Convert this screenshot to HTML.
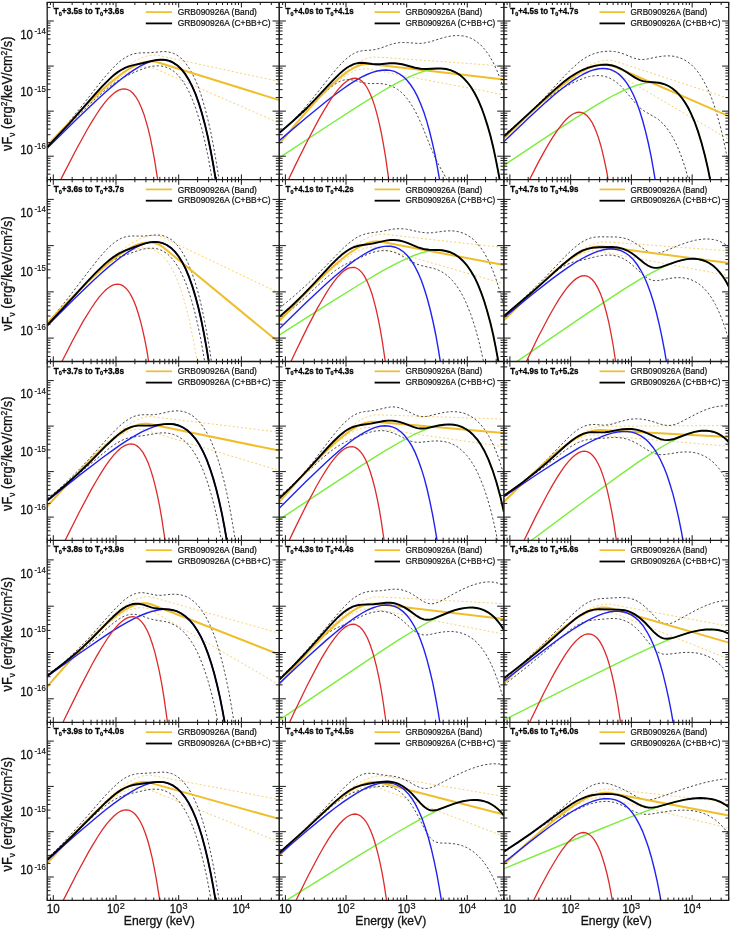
<!DOCTYPE html><html><head><meta charset="utf-8"><style>html,body{margin:0;padding:0;background:#fff;}svg{display:block}</style></head><body>
<svg width="730" height="929" viewBox="0 0 730 929" font-family="Liberation Sans, sans-serif" style="will-change:transform">
<rect width="730" height="929" fill="#fff"/>
<clipPath id="c00"><rect x="47.2" y="2.3" width="231.9" height="177.3"/></clipPath>
<clipPath id="c01"><rect x="47.2" y="179.6" width="231.9" height="181.9"/></clipPath>
<clipPath id="c02"><rect x="47.2" y="361.5" width="231.9" height="178.9"/></clipPath>
<clipPath id="c03"><rect x="47.2" y="540.4" width="231.9" height="182.0"/></clipPath>
<clipPath id="c04"><rect x="47.2" y="722.4" width="231.9" height="177.9"/></clipPath>
<clipPath id="c10"><rect x="279.3" y="2.3" width="224.5" height="177.3"/></clipPath>
<clipPath id="c11"><rect x="279.3" y="179.6" width="224.5" height="181.9"/></clipPath>
<clipPath id="c12"><rect x="279.3" y="361.5" width="224.5" height="178.9"/></clipPath>
<clipPath id="c13"><rect x="279.3" y="540.4" width="224.5" height="182.0"/></clipPath>
<clipPath id="c14"><rect x="279.3" y="722.4" width="224.5" height="177.9"/></clipPath>
<clipPath id="c20"><rect x="504.0" y="2.3" width="224.7" height="177.3"/></clipPath>
<clipPath id="c21"><rect x="504.0" y="179.6" width="224.7" height="181.9"/></clipPath>
<clipPath id="c22"><rect x="504.0" y="361.5" width="224.7" height="178.9"/></clipPath>
<clipPath id="c23"><rect x="504.0" y="540.4" width="224.7" height="182.0"/></clipPath>
<clipPath id="c24"><rect x="504.0" y="722.4" width="224.7" height="177.9"/></clipPath>
<g clip-path="url(#c00)" fill="none">
<path d="M47.2 146.6 68.0 123.5 84.8 105.4 98.9 91.1 110.7 79.8 121.2 70.8 126.0 67.1 130.5 63.9 134.7 61.3 139.0 59.0 142.8 57.3 146.5 56.1 149.5 55.4 152.5 55.0 155.5 55.0 158.3 55.4 279.1 81.5" stroke="#f2cd6c" stroke-width="0.95" stroke-dasharray="1.9,2.3"/>
<path d="M47.2 145.1 67.3 124.4 83.6 108.2 97.1 95.6 108.7 85.7 113.9 81.6 118.9 78.1 123.7 75.0 128.2 72.4 132.5 70.4 136.5 68.9 140.2 67.8 144.0 67.2 147.0 67.1 149.8 67.3 152.5 67.9 155.3 68.8 279.1 123.0" stroke="#f2cd6c" stroke-width="0.95" stroke-dasharray="1.9,2.3"/>
<path d="M47.2 147.1 59.8 132.8 71.0 119.4 81.1 107.0 99.1 84.0 106.4 75.2 110.7 70.3 114.7 66.2 118.2 62.8 121.7 59.9 125.5 57.4 129.0 55.5 132.7 54.1 136.5 53.3 140.5 52.9 150.5 52.7 163.3 51.5 167.6 51.8 171.6 52.7 173.8 53.5 176.1 54.6 178.4 56.1 180.4 57.6 184.4 61.6 188.1 66.6 191.9 72.8 195.4 80.0 198.7 88.0 201.9 97.5 204.9 107.8 207.9 119.6 211.0 133.1 213.7 147.3 216.5 163.3 219.0 179.5 221.5 197.6 224.2 219.6 279.1 219.6" stroke="#404040" stroke-width="0.95" stroke-dasharray="2.2,2.1"/>
<path d="M47.2 145.1 96.9 97.4 107.1 88.5 111.7 85.0 115.9 82.0 122.2 78.2 129.5 74.5 139.0 70.3 146.5 67.6 151.8 66.3 156.8 65.8 161.3 66.0 165.6 67.0 170.1 68.9 174.3 71.7 178.4 75.5 182.1 80.1 185.9 85.9 189.4 92.6 192.6 100.1 195.9 108.8 198.9 118.3 201.9 129.1 204.9 141.6 207.7 154.6 210.4 169.3 213.0 184.3 215.5 200.9 218.0 219.3 218.2 219.6 279.1 219.6" stroke="#404040" stroke-width="0.95" stroke-dasharray="2.2,2.1"/>
<path d="M47.2 145.5 67.8 123.9 84.3 107.0 98.1 93.7 109.9 83.1 120.4 74.7 125.2 71.4 129.7 68.5 134.0 66.2 138.2 64.2 142.0 62.8 145.8 61.9 148.8 61.5 151.8 61.4 154.8 61.6 157.5 62.2 279.1 100.1" stroke="#efbe2a" stroke-width="2.0"/>
<path d="M47.2 148.2 75.6 120.2 96.6 100.2 105.4 92.3 113.4 85.4 120.7 79.5 127.5 74.4 133.7 70.1 139.7 66.4 145.3 63.6 150.5 61.6 155.5 60.2 160.1 59.7 164.3 59.8 168.6 60.7 170.8 61.5 173.1 62.6 177.4 65.4 181.4 69.2 185.1 73.9 188.9 79.9 192.4 86.8 195.7 94.4 198.9 103.5 201.9 113.2 204.9 124.4 207.9 137.3 210.7 150.8 213.5 166.0 216.0 181.5 218.5 198.7 221.2 219.6 279.1 219.6" stroke="#2222f0" stroke-width="1.4"/>
<path d="M47.2 207.3 63.0 175.1 76.1 149.7 87.1 129.7 91.9 121.6 96.4 114.5 100.6 108.2 104.6 102.9 108.4 98.4 112.2 94.7 115.4 92.1 118.7 90.1 121.7 89.1 124.7 88.8 127.7 89.5 130.5 91.0 133.2 93.5 136.0 97.0 138.7 101.8 141.2 107.2 143.8 113.9 146.0 121.1 148.3 129.4 150.3 137.9 152.5 148.8 154.5 159.7 158.3 183.6 160.6 200.4 162.8 219.3 163.1 219.6 279.1 219.6" stroke="#de2a2a" stroke-width="1.3"/>
<path d="M47.2 147.2 69.0 123.8 94.9 94.4 101.9 86.6 110.2 78.4 113.9 75.1 117.4 72.4 121.4 69.8 125.5 67.7 129.7 66.1 134.5 64.8 143.3 63.0 152.8 60.7 157.3 59.9 160.3 59.6 163.1 59.7 165.8 60.0 168.6 60.7 170.8 61.5 173.1 62.6 177.4 65.4 181.4 69.2 185.1 73.9 188.9 79.9 192.4 86.8 195.7 94.4 198.9 103.5 201.9 113.2 204.9 124.4 207.9 137.3 210.7 150.8 213.5 166.0 216.0 181.5 218.5 198.7 221.2 219.6 279.1 219.6" stroke="#000" stroke-width="1.9"/>
</g>
<g clip-path="url(#c01)" fill="none">
<path d="M47.2 324.0 69.3 300.2 86.8 282.0 101.1 267.9 113.4 256.8 119.2 252.0 124.4 248.0 129.5 244.5 134.0 241.8 138.2 239.5 142.5 237.7 146.5 236.4 150.3 235.7 153.5 235.5 156.8 235.7 159.8 236.3 162.8 237.4 279.1 293.0" stroke="#f2cd6c" stroke-width="0.95" stroke-dasharray="1.9,2.3"/>
<path d="M47.2 322.7 70.0 299.7 87.8 282.6 95.4 275.8 102.4 269.8 108.9 264.5 114.9 260.1 120.7 256.3 126.0 253.3 131.0 250.9 135.7 249.2 140.2 248.2 144.5 247.8 148.5 248.2 152.3 249.1 156.5 251.1 160.6 253.9 164.3 257.6 168.1 262.4 171.6 268.0 175.1 275.0 178.4 282.8 181.4 291.2 184.4 301.0 187.1 311.2 189.9 322.9 192.6 336.2 195.2 349.7 197.7 364.8 202.9 401.5 279.1 401.5" stroke="#f2cd6c" stroke-width="0.95" stroke-dasharray="1.9,2.3"/>
<path d="M47.2 323.5 57.0 311.8 66.3 300.4 91.6 267.4 99.1 258.0 103.6 252.8 107.6 248.5 111.4 245.0 114.9 242.1 118.4 239.8 121.7 238.1 125.2 236.9 128.7 236.2 132.7 236.0 143.3 236.1 153.5 235.1 156.8 235.0 161.1 235.3 164.8 236.2 169.1 238.2 171.3 239.6 173.3 241.2 177.4 245.2 181.1 250.2 184.6 256.1 188.1 263.3 191.4 271.4 194.7 280.9 197.7 291.1 200.7 302.9 203.7 316.5 206.4 330.7 209.2 346.7 211.7 363.0 214.2 381.2 216.7 401.3 217.0 401.5 279.1 401.5" stroke="#404040" stroke-width="0.95" stroke-dasharray="2.2,2.1"/>
<path d="M47.2 324.5 60.5 310.5 83.1 286.2 91.1 277.8 100.1 269.3 104.1 266.0 107.9 263.3 113.4 260.0 119.2 257.3 134.7 251.7 141.5 249.5 146.3 248.5 150.8 248.1 155.0 248.4 159.0 249.3 163.3 251.2 167.6 254.1 171.3 257.7 175.1 262.4 178.6 267.9 182.1 274.6 185.4 282.1 188.6 291.0 191.6 300.6 194.7 311.6 197.4 323.1 200.2 336.2 202.9 351.0 205.4 366.0 207.9 382.7 210.4 401.3 210.7 401.5 279.1 401.5" stroke="#404040" stroke-width="0.95" stroke-dasharray="2.2,2.1"/>
<path d="M47.2 323.0 69.3 300.2 86.8 282.7 101.4 269.2 107.6 263.8 113.7 258.9 119.4 254.6 124.7 251.1 129.7 248.1 134.2 245.9 138.7 244.1 143.0 243.0 147.0 242.4 150.8 242.4 154.3 243.0 157.5 244.0 160.8 245.6 163.8 247.7 279.1 342.6" stroke="#efbe2a" stroke-width="2.0"/>
<path d="M47.2 325.9 73.3 299.8 93.1 280.7 101.6 272.9 109.2 266.4 116.2 260.7 122.7 255.7 128.7 251.6 134.5 248.2 139.7 245.6 144.8 243.6 149.5 242.4 154.0 241.9 158.3 242.1 162.3 243.0 166.6 244.8 170.8 247.7 174.8 251.6 178.6 256.4 182.1 262.0 185.6 268.9 188.9 276.6 192.1 285.7 195.2 295.5 198.2 306.8 200.9 318.6 203.7 332.1 206.2 345.8 208.7 361.0 211.5 379.8 214.2 400.9 214.5 401.5 279.1 401.5" stroke="#2222f0" stroke-width="1.4"/>
<path d="M47.2 391.7 61.3 362.8 72.8 340.2 82.8 321.9 91.4 308.0 95.4 302.1 99.1 297.2 102.6 293.1 105.9 289.8 109.2 287.2 112.2 285.4 115.2 284.4 117.9 284.2 120.7 284.7 123.4 286.1 126.2 288.4 128.7 291.5 131.2 295.6 133.7 300.8 136.0 306.5 138.2 313.3 140.5 321.2 142.5 329.3 144.8 339.7 146.8 350.2 150.5 373.3 154.3 401.4 279.1 401.5" stroke="#de2a2a" stroke-width="1.3"/>
<path d="M47.2 325.2 62.5 308.9 87.3 281.7 95.6 272.9 104.9 263.9 108.9 260.5 112.9 257.4 118.7 253.7 125.0 250.6 134.0 247.1 144.3 243.6 149.5 242.4 154.0 241.9 158.3 242.1 162.6 243.1 166.8 245.0 171.1 247.9 175.1 251.9 178.9 256.7 182.4 262.4 185.9 269.4 189.1 277.2 192.4 286.4 195.4 296.4 198.4 307.8 201.2 319.8 203.9 333.4 206.4 347.2 208.9 362.6 211.7 381.6 214.2 400.9 214.5 401.5 279.1 401.5" stroke="#000" stroke-width="1.9"/>
</g>
<g clip-path="url(#c02)" fill="none">
<path d="M47.2 507.1 66.5 485.0 82.3 467.5 95.6 453.5 106.9 442.3 117.2 433.2 121.7 429.6 126.2 426.3 130.2 423.6 134.2 421.3 138.0 419.5 141.7 418.1 144.8 417.2 147.5 416.8 150.3 416.6 152.8 416.7 279.1 432.2" stroke="#f2cd6c" stroke-width="0.95" stroke-dasharray="1.9,2.3"/>
<path d="M47.2 506.5 64.8 486.8 79.1 471.4 91.4 459.0 102.1 449.0 107.1 444.7 111.9 441.0 116.2 438.0 120.4 435.3 124.4 433.1 128.2 431.5 131.7 430.3 135.2 429.5 137.7 429.2 140.2 429.2 142.8 429.5 145.0 430.0 279.1 470.5" stroke="#f2cd6c" stroke-width="0.95" stroke-dasharray="1.9,2.3"/>
<path d="M47.2 499.8 64.8 483.7 78.8 469.9 88.8 459.3 108.4 437.4 115.9 429.5 122.2 423.7 128.0 419.5 131.0 417.8 134.0 416.4 137.0 415.5 140.0 415.0 143.8 414.7 152.0 414.8 155.5 414.5 159.6 413.8 169.3 411.6 174.8 410.9 177.9 410.8 180.6 411.1 183.4 411.6 185.9 412.3 188.4 413.4 190.6 414.5 192.9 416.0 195.2 417.8 199.4 422.0 203.4 427.2 207.2 433.3 211.0 440.8 214.5 449.3 217.7 458.5 221.0 469.3 224.0 480.9 227.0 494.0 229.8 507.7 232.5 523.1 235.0 538.7 240.8 580.4 279.1 580.4" stroke="#404040" stroke-width="0.95" stroke-dasharray="2.2,2.1"/>
<path d="M47.2 498.4 63.0 486.4 75.6 476.5 108.2 449.1 114.7 444.4 120.7 440.9 125.7 438.7 131.0 437.3 144.8 435.4 157.8 433.2 162.3 432.8 166.3 433.0 170.1 433.5 173.8 434.6 178.4 436.6 182.9 439.6 186.9 443.2 190.9 447.8 194.7 453.3 198.4 459.9 201.9 467.4 205.2 475.6 208.2 484.3 211.2 494.4 214.2 505.8 217.0 517.7 219.7 531.1 222.2 544.7 225.0 561.3 227.7 580.0 228.0 580.4 279.1 580.4" stroke="#404040" stroke-width="0.95" stroke-dasharray="2.2,2.1"/>
<path d="M47.2 506.3 65.8 485.8 81.1 469.4 93.9 456.4 104.9 446.1 114.9 437.7 119.4 434.3 123.7 431.5 127.7 429.1 131.7 427.1 135.5 425.6 139.0 424.5 141.7 424.0 144.5 423.7 147.0 423.8 149.5 424.1 279.1 450.6" stroke="#efbe2a" stroke-width="2.0"/>
<path d="M47.2 500.9 79.3 475.4 102.4 457.7 112.2 450.6 120.7 444.7 128.5 439.6 135.5 435.4 142.3 431.7 148.5 428.8 154.3 426.6 159.8 425.0 165.1 424.1 169.8 423.9 174.3 424.3 178.6 425.5 183.1 427.5 187.6 430.5 191.6 434.3 195.7 439.1 199.4 444.8 203.2 451.8 206.7 459.7 209.9 468.3 213.2 478.4 216.2 489.1 219.2 501.3 222.0 514.1 224.7 528.4 227.5 544.5 232.8 580.4 279.1 580.4" stroke="#2222f0" stroke-width="1.4"/>
<path d="M47.2 577.6 64.8 541.1 79.1 512.5 91.1 489.9 96.4 480.7 101.1 472.8 105.6 465.9 109.9 459.9 113.9 454.9 117.7 450.9 121.2 447.8 124.7 445.6 128.0 444.3 131.0 443.9 134.0 444.4 135.5 445.0 137.0 445.9 140.0 448.6 142.8 452.2 145.5 457.1 148.0 462.6 150.5 469.4 152.8 476.7 155.0 485.1 157.3 494.9 159.6 506.1 161.8 518.7 166.1 547.4 170.1 580.4 279.1 580.4" stroke="#de2a2a" stroke-width="1.3"/>
<path d="M47.2 500.5 64.5 485.8 78.3 473.4 87.8 464.3 106.6 445.2 113.7 438.5 119.7 433.4 125.2 429.7 128.5 428.1 131.5 426.9 134.7 426.1 138.0 425.6 152.0 425.6 164.1 424.1 168.6 423.9 173.8 424.3 178.6 425.5 183.1 427.5 187.6 430.5 191.6 434.3 195.7 439.1 199.4 444.8 203.2 451.8 206.7 459.7 209.9 468.3 213.2 478.4 216.2 489.1 219.2 501.3 222.0 514.1 224.7 528.4 227.5 544.5 232.8 580.4 279.1 580.4" stroke="#000" stroke-width="1.9"/>
</g>
<g clip-path="url(#c03)" fill="none">
<path d="M47.2 687.4 66.5 664.5 82.3 646.4 95.6 632.0 106.9 620.7 112.2 615.8 117.2 611.5 121.7 607.9 126.2 604.7 130.2 602.2 134.2 600.1 138.0 598.5 141.7 597.4 144.8 596.9 147.5 596.7 150.3 596.9 152.8 597.4 279.1 633.2" stroke="#f2cd6c" stroke-width="0.95" stroke-dasharray="1.9,2.3"/>
<path d="M47.2 686.2 66.5 664.8 82.1 648.2 95.1 635.3 106.4 625.1 111.7 620.9 116.4 617.4 120.9 614.5 125.5 612.0 129.5 610.1 133.5 608.7 137.2 607.9 141.0 607.6 143.8 607.8 146.5 608.3 149.3 609.3 151.8 610.5 279.1 684.8" stroke="#f2cd6c" stroke-width="0.95" stroke-dasharray="1.9,2.3"/>
<path d="M47.2 676.9 64.0 662.3 77.3 649.9 84.1 643.1 90.9 635.9 110.4 613.9 116.7 607.1 123.7 600.5 127.0 598.0 130.0 596.0 133.0 594.5 135.7 593.5 138.5 592.9 141.5 592.6 145.8 593.0 153.8 594.7 157.5 595.3 161.8 595.3 170.8 594.3 175.3 594.2 180.1 594.7 184.6 595.9 187.1 597.0 189.4 598.2 193.9 601.5 198.2 605.7 202.2 610.9 205.9 617.0 209.7 624.4 213.2 632.7 216.5 641.9 219.7 652.5 222.7 663.8 225.7 676.8 228.8 691.5 231.5 706.8 234.3 723.9 236.8 741.3 239.5 762.4 279.1 762.4" stroke="#404040" stroke-width="0.95" stroke-dasharray="2.2,2.1"/>
<path d="M47.2 674.3 64.5 662.8 77.3 653.7 83.6 648.8 89.8 643.6 107.4 628.1 113.2 623.2 119.2 618.9 121.9 617.3 124.7 616.0 127.7 614.9 130.5 614.4 133.2 614.2 136.2 614.5 140.5 615.5 148.3 618.3 151.8 619.3 155.5 620.1 164.8 621.5 167.8 622.2 170.6 623.2 175.3 625.4 179.6 628.3 183.6 631.8 187.6 636.3 191.4 641.6 195.2 648.0 198.7 655.1 201.9 662.9 205.2 671.9 208.2 681.5 211.2 692.4 214.0 703.7 216.7 716.4 219.5 730.7 224.7 762.4 279.1 762.4" stroke="#404040" stroke-width="0.95" stroke-dasharray="2.2,2.1"/>
<path d="M47.2 686.5 66.5 664.7 82.1 647.8 95.1 634.5 106.4 623.9 111.7 619.4 116.4 615.6 120.9 612.3 125.5 609.5 129.5 607.3 133.5 605.5 137.2 604.2 141.0 603.5 143.8 603.2 146.5 603.3 149.3 603.7 151.8 604.5 279.1 654.5" stroke="#efbe2a" stroke-width="2.0"/>
<path d="M47.2 676.5 78.6 654.0 101.4 638.3 110.7 632.2 119.2 626.9 127.0 622.4 134.0 618.7 140.7 615.5 147.0 613.0 152.8 611.2 158.0 610.0 163.1 609.4 167.8 609.4 172.3 610.0 176.6 611.2 181.1 613.4 185.6 616.5 189.6 620.2 193.7 625.0 197.4 630.6 201.2 637.4 204.7 645.1 207.9 653.4 211.2 663.2 214.2 673.5 217.2 685.4 220.0 697.6 222.7 711.4 225.2 725.4 228.0 742.6 230.8 761.8 231.0 762.4 279.1 762.4" stroke="#2222f0" stroke-width="1.4"/>
<path d="M47.2 755.8 65.5 717.0 80.1 687.4 92.1 664.3 97.4 654.9 102.4 646.5 107.1 639.0 111.4 632.9 115.4 627.9 119.2 623.8 122.7 620.7 126.2 618.4 129.5 617.1 132.5 616.7 134.2 616.9 135.7 617.4 137.2 618.1 138.7 619.0 141.7 621.9 144.5 625.7 147.3 630.8 149.8 636.6 152.3 643.7 154.8 652.1 157.0 661.1 159.3 671.4 161.6 683.1 163.8 696.4 167.8 724.5 172.3 762.4 279.1 762.4" stroke="#de2a2a" stroke-width="1.3"/>
<path d="M47.2 676.1 64.0 663.1 77.1 652.3 83.6 646.4 90.1 640.2 108.7 621.2 114.7 615.3 118.2 612.2 121.4 609.6 124.4 607.6 127.2 606.0 130.2 604.8 133.0 604.0 135.7 603.7 138.7 603.7 143.0 604.6 151.3 607.3 155.0 608.3 159.0 608.8 169.6 609.5 173.1 610.2 176.6 611.2 181.4 613.5 185.6 616.5 189.6 620.2 193.7 625.0 197.4 630.6 201.2 637.4 204.7 645.1 207.9 653.4 211.2 663.2 214.2 673.5 217.2 685.4 220.0 697.6 222.7 711.4 225.2 725.4 228.0 742.6 230.8 761.8 231.0 762.4 279.1 762.4" stroke="#000" stroke-width="1.9"/>
</g>
<g clip-path="url(#c04)" fill="none">
<path d="M47.2 864.0 66.5 842.0 82.3 824.6 95.6 810.6 106.9 799.6 117.2 790.6 121.7 787.1 126.2 783.9 130.2 781.3 134.2 779.2 138.0 777.5 141.7 776.2 144.5 775.6 147.3 775.3 150.0 775.2 152.5 775.5 279.1 799.5" stroke="#f2cd6c" stroke-width="0.95" stroke-dasharray="1.9,2.3"/>
<path d="M47.2 863.0 65.3 843.3 80.1 827.9 92.6 815.6 103.6 805.7 108.7 801.7 113.4 798.1 117.9 795.1 122.2 792.6 126.2 790.7 130.0 789.2 133.7 788.1 137.2 787.6 140.0 787.5 142.5 787.7 145.0 788.2 147.5 789.0 279.1 842.0" stroke="#f2cd6c" stroke-width="0.95" stroke-dasharray="1.9,2.3"/>
<path d="M47.2 859.1 61.3 844.7 73.3 831.8 83.6 820.4 101.4 799.9 108.2 792.5 115.9 784.9 119.2 782.1 122.4 779.7 126.2 777.3 130.0 775.6 133.7 774.4 137.5 773.7 149.8 773.0 162.1 772.1 166.8 772.4 171.3 773.5 173.6 774.5 175.8 775.6 180.1 778.7 184.1 782.7 188.1 788.0 191.9 794.2 195.4 801.4 198.9 810.1 202.2 819.6 205.2 829.8 208.2 841.5 211.2 855.0 214.0 869.0 216.7 884.8 219.2 900.9 224.5 940.3 279.1 940.3" stroke="#404040" stroke-width="0.95" stroke-dasharray="2.2,2.1"/>
<path d="M47.2 858.1 68.0 839.6 99.1 810.9 107.1 804.4 110.7 801.9 114.2 799.7 119.7 796.9 125.5 794.9 131.2 793.4 147.3 789.8 152.3 789.2 156.5 789.1 160.6 789.6 164.6 790.7 169.1 792.8 173.3 795.7 177.4 799.5 181.1 804.1 184.9 809.9 188.4 816.5 191.6 823.7 194.9 832.3 197.9 841.5 200.9 852.0 203.9 864.1 206.7 876.7 209.4 890.9 212.0 905.3 217.2 940.3 279.1 940.3" stroke="#404040" stroke-width="0.95" stroke-dasharray="2.2,2.1"/>
<path d="M47.2 863.4 65.8 842.8 81.1 826.5 94.1 813.3 105.1 803.0 115.2 794.8 119.7 791.5 123.9 788.8 128.0 786.5 132.0 784.7 135.7 783.3 139.2 782.4 142.0 782.0 144.5 782.0 147.0 782.1 149.5 782.6 279.1 818.9" stroke="#efbe2a" stroke-width="2.0"/>
<path d="M47.2 860.4 75.6 835.1 96.6 817.2 105.4 810.0 113.4 803.9 120.7 798.6 127.5 794.1 133.7 790.3 139.7 787.2 145.3 784.8 150.5 783.2 155.3 782.2 159.8 781.9 164.1 782.3 168.3 783.4 172.8 785.4 177.1 788.4 181.1 792.3 185.1 797.3 188.9 803.3 192.4 810.2 195.7 817.8 198.9 826.7 201.9 836.3 204.9 847.4 207.9 860.0 210.7 873.2 213.5 888.1 216.0 903.2 218.5 920.0 221.2 940.3 279.1 940.3" stroke="#2222f0" stroke-width="1.4"/>
<path d="M47.2 933.4 63.5 899.9 76.8 873.7 88.1 852.9 93.1 844.3 97.6 837.0 102.1 830.2 106.1 824.7 109.9 820.2 113.7 816.3 117.2 813.3 120.4 811.3 123.4 810.1 126.5 809.8 129.5 810.3 132.2 811.7 135.0 814.0 137.7 817.4 140.5 822.0 143.0 827.3 145.5 833.8 147.8 840.8 150.0 849.0 152.3 858.4 154.5 869.3 156.5 880.1 160.6 905.8 164.8 939.5 165.1 940.3 279.1 940.3" stroke="#de2a2a" stroke-width="1.3"/>
<path d="M47.2 859.9 61.0 846.9 72.8 835.5 105.9 802.2 113.7 795.3 117.2 792.6 120.4 790.4 124.7 788.0 128.7 786.3 133.0 785.0 137.7 784.2 152.8 782.3 158.0 781.9 163.3 782.1 165.8 782.6 168.3 783.3 172.8 785.4 177.1 788.4 181.1 792.3 185.1 797.3 188.9 803.3 192.4 810.2 195.7 817.8 198.9 826.7 201.9 836.3 204.9 847.4 207.9 860.0 210.7 873.2 213.5 888.1 216.0 903.2 218.5 920.0 221.2 940.3 279.1 940.3" stroke="#000" stroke-width="1.9"/>
</g>
<g clip-path="url(#c10)" fill="none">
<path d="M279.5 143.9 297.0 122.9 311.3 106.2 323.4 92.8 333.8 82.0 343.3 73.2 351.5 66.6 355.4 63.9 359.0 61.7 362.7 59.9 366.1 58.5 371.2 57.2 373.6 57.0 375.8 57.0 503.8 66.0" stroke="#f2cd6c" stroke-width="0.95" stroke-dasharray="1.9,2.3"/>
<path d="M279.5 143.0 295.0 124.9 308.1 110.2 319.3 98.4 329.2 88.7 338.2 81.0 342.3 77.9 346.2 75.3 349.8 73.2 353.5 71.4 356.9 70.1 360.0 69.3 364.4 68.7 368.5 69.0 503.8 94.7" stroke="#f2cd6c" stroke-width="0.95" stroke-dasharray="1.9,2.3"/>
<path d="M279.5 132.8 291.4 122.0 302.1 110.9 312.7 98.5 330.2 76.4 336.3 69.1 342.8 62.0 345.7 59.3 348.6 56.9 351.3 55.0 353.7 53.6 356.1 52.4 358.8 51.5 363.2 50.6 372.1 50.0 376.3 49.3 380.4 48.2 390.3 44.6 395.7 43.2 399.5 42.6 403.4 42.5 407.3 42.6 417.7 43.4 420.9 43.4 423.8 43.1 429.8 41.9 441.0 38.4 445.6 37.1 450.5 36.1 454.8 35.6 458.9 35.6 463.1 35.9 466.9 36.8 470.6 38.1 473.2 39.4 475.7 40.9 480.3 44.5 484.6 49.2 489.0 55.2 492.9 61.9 496.8 70.1 500.4 79.3 503.8 89.4" stroke="#404040" stroke-width="0.95" stroke-dasharray="2.2,2.1"/>
<path d="M279.5 131.8 290.7 123.3 300.4 115.3 308.6 107.8 323.7 93.3 329.2 88.4 335.0 84.1 337.7 82.5 340.4 81.2 342.8 80.3 345.2 79.8 347.7 79.5 350.1 79.6 354.0 80.2 361.7 82.5 365.4 83.2 369.5 83.6 378.0 83.5 382.1 83.7 386.7 84.5 390.8 85.8 394.2 87.3 397.6 89.4 400.8 91.9 403.9 94.9 406.8 98.2 409.7 102.1 412.6 106.6 415.3 111.3 418.4 117.6 421.6 124.6 431.5 149.3 435.4 158.2 439.3 165.9 447.8 181.1 452.2 190.2 454.8 196.7 457.2 203.3 462.3 219.6 503.8 219.6" stroke="#404040" stroke-width="0.95" stroke-dasharray="2.2,2.1"/>
<path d="M279.5 143.7 295.5 124.4 308.9 108.9 320.3 96.4 330.2 86.3 339.2 78.1 347.2 71.9 350.8 69.6 354.4 67.5 357.8 66.0 361.2 64.8 365.8 63.9 370.2 63.9 503.8 79.6" stroke="#efbe2a" stroke-width="2.0"/>
<path d="M279.5 157.7 328.3 125.5 358.6 105.9 381.1 92.0 390.3 86.7 398.6 82.2 406.6 78.2 413.8 74.9 420.6 72.3 426.7 70.4 432.3 69.2 437.6 68.6 442.7 68.6 447.3 69.2 452.4 70.8 457.0 73.0 461.4 76.1 465.7 80.3 469.6 85.1 473.5 91.0 477.1 97.8 480.5 105.4 483.9 114.3 487.1 124.0 490.2 135.2 493.1 147.0 496.0 160.4 498.7 174.2 501.4 189.7 503.8 205.4" stroke="#7aee3a" stroke-width="1.4"/>
<path d="M279.5 140.4 306.2 117.7 326.1 101.5 334.6 95.0 342.1 89.5 349.1 84.6 355.4 80.7 361.5 77.2 367.0 74.5 372.4 72.4 377.2 71.0 381.8 70.2 386.2 70.0 390.3 70.4 394.4 71.4 398.8 73.5 402.9 76.3 406.8 80.0 410.4 84.5 414.1 90.2 417.5 96.6 420.6 103.7 423.8 112.1 426.7 121.1 429.6 131.5 432.5 143.4 435.2 155.7 437.8 169.6 440.3 183.8 445.6 219.6 503.8 219.6" stroke="#2222f0" stroke-width="1.4"/>
<path d="M279.5 198.6 295.0 165.9 307.9 140.0 318.8 119.4 323.7 110.9 328.0 103.8 332.1 97.5 336.0 92.2 339.7 87.7 343.3 84.0 346.7 81.2 349.8 79.3 352.7 78.4 355.7 78.2 358.6 78.9 361.5 80.7 364.4 83.7 367.0 87.5 369.7 92.7 372.1 98.5 374.6 105.6 376.7 113.2 378.9 121.9 381.1 132.0 383.3 143.6 385.5 156.6 389.4 184.2 393.5 219.6 503.8 219.6" stroke="#de2a2a" stroke-width="1.3"/>
<path d="M279.5 132.9 293.3 120.8 305.0 109.8 314.9 99.7 332.4 80.9 339.2 74.1 343.3 70.5 346.9 67.8 350.3 65.8 353.7 64.2 357.4 63.2 361.0 62.8 364.6 63.0 372.4 64.0 376.3 64.3 380.1 64.2 389.6 63.3 394.9 63.3 398.6 63.7 402.2 64.3 415.1 67.7 420.6 68.7 426.5 69.0 436.9 68.5 441.2 68.5 446.1 69.0 450.5 70.1 455.1 72.0 459.4 74.6 463.5 78.1 467.4 82.3 471.1 87.2 474.7 93.2 478.1 99.9 481.5 107.8 484.6 116.5 487.5 125.6 490.5 136.1 493.4 148.0 496.0 160.4 498.7 174.2 501.4 189.7 503.8 205.4" stroke="#000" stroke-width="1.9"/>
</g>
<g clip-path="url(#c11)" fill="none">
<path d="M279.5 321.7 298.9 300.2 314.4 283.4 327.5 269.9 338.7 259.2 348.6 250.5 357.6 243.7 361.7 241.0 365.6 238.8 369.2 237.0 372.9 235.6 375.8 234.8 378.4 234.3 381.1 234.1 383.8 234.2 503.8 247.6" stroke="#f2cd6c" stroke-width="0.95" stroke-dasharray="1.9,2.3"/>
<path d="M279.5 320.1 297.7 301.4 312.5 286.8 325.1 275.0 335.8 265.8 345.5 258.5 349.8 255.5 354.2 253.0 358.1 251.0 362.0 249.3 365.6 248.2 369.0 247.4 371.7 247.1 374.3 247.1 376.7 247.3 379.2 247.8 503.8 283.7" stroke="#f2cd6c" stroke-width="0.95" stroke-dasharray="1.9,2.3"/>
<path d="M279.5 308.1 293.8 296.2 306.4 285.0 318.8 273.1 342.6 248.8 348.9 243.1 354.2 239.1 357.4 237.1 360.3 235.7 363.4 234.5 366.6 233.6 370.2 232.9 380.4 231.6 392.5 229.2 395.9 228.8 399.3 228.7 402.9 228.8 406.6 229.2 420.4 232.2 426.5 232.9 432.5 232.7 442.9 231.3 447.1 230.9 451.2 230.8 455.1 231.1 459.2 231.9 463.3 233.2 467.2 235.1 470.8 237.4 473.5 239.6 475.9 241.9 480.5 247.3 484.9 253.9 489.0 261.7 492.9 270.6 496.8 281.3 500.4 293.2 503.8 306.2" stroke="#404040" stroke-width="0.95" stroke-dasharray="2.2,2.1"/>
<path d="M279.5 319.3 289.0 311.7 298.2 303.8 306.4 296.3 322.0 281.7 328.5 275.9 335.5 270.4 342.3 265.9 349.4 262.3 364.4 255.7 370.4 253.2 375.3 251.7 380.6 250.7 385.5 250.6 390.3 251.2 394.9 252.5 400.5 255.0 411.7 261.6 416.8 264.1 421.8 265.7 434.2 268.6 437.6 269.8 441.0 271.4 445.1 273.9 449.0 277.1 452.6 280.7 456.3 285.3 458.9 289.2 461.4 293.2 463.8 297.8 466.2 302.9 470.8 314.4 475.2 327.7 479.3 342.9 483.2 359.9 486.8 378.6 490.7 401.5 503.8 401.5" stroke="#404040" stroke-width="0.95" stroke-dasharray="2.2,2.1"/>
<path d="M279.5 320.8 298.2 301.0 313.5 285.3 326.3 272.7 337.2 262.9 346.9 255.0 351.3 251.8 355.7 249.0 359.5 246.7 363.4 244.8 367.0 243.3 370.7 242.2 373.4 241.7 376.0 241.4 378.7 241.4 381.1 241.7 503.8 265.1" stroke="#efbe2a" stroke-width="2.0"/>
<path d="M279.5 334.9 328.3 303.9 358.6 285.0 381.1 271.7 390.3 266.6 398.6 262.4 406.6 258.6 413.8 255.5 420.6 253.2 426.7 251.5 432.3 250.5 437.6 250.2 442.7 250.4 447.3 251.3 452.4 253.2 457.0 255.8 461.4 259.3 465.7 263.8 469.6 269.0 473.5 275.4 477.1 282.7 480.5 290.8 483.9 300.3 487.1 310.5 490.2 322.3 493.1 334.7 496.0 348.9 498.7 363.4 501.4 379.7 503.8 396.2" stroke="#7aee3a" stroke-width="1.4"/>
<path d="M279.5 328.6 306.2 302.6 326.3 283.8 334.8 276.3 342.6 269.7 349.6 264.1 355.9 259.5 362.0 255.5 367.8 252.1 373.1 249.5 378.0 247.7 382.6 246.6 386.9 246.1 391.1 246.3 395.2 247.2 399.5 249.2 403.7 252.0 407.5 255.8 411.2 260.5 414.8 266.3 418.2 273.1 421.4 280.6 424.5 289.5 427.4 299.0 430.3 310.0 433.0 321.5 435.7 334.5 438.1 347.8 440.5 362.5 443.2 380.7 445.8 401.1 446.1 401.5 503.8 401.5" stroke="#2222f0" stroke-width="1.4"/>
<path d="M279.5 386.2 294.6 353.8 306.9 328.4 317.3 308.4 322.0 300.2 326.3 292.9 330.4 286.5 334.1 281.4 337.7 276.9 341.1 273.3 344.3 270.6 347.4 268.7 350.3 267.6 353.2 267.3 354.7 267.5 356.1 268.0 358.8 269.5 361.5 272.1 364.1 275.7 366.8 280.6 369.2 286.2 371.7 293.0 373.8 300.4 376.0 308.9 378.2 318.8 380.4 330.1 382.3 341.4 386.0 366.3 390.1 401.0 390.3 401.5 503.8 401.5" stroke="#de2a2a" stroke-width="1.3"/>
<path d="M279.5 316.9 291.9 305.7 303.0 294.9 312.7 284.8 330.4 265.7 337.7 258.4 342.3 254.3 346.4 251.2 350.3 248.8 354.2 247.0 359.5 245.5 372.4 243.6 385.7 240.6 390.1 240.0 394.4 240.0 399.1 240.5 403.7 241.7 408.0 243.2 418.0 247.3 423.5 249.0 428.9 249.7 438.1 250.0 442.0 250.3 445.8 251.0 449.5 252.0 454.3 254.2 458.7 257.0 462.8 260.7 466.9 265.3 470.8 270.9 474.5 277.2 477.9 284.3 481.2 292.7 484.4 301.7 487.5 312.2 490.5 323.3 493.4 335.8 496.0 348.9 498.7 363.4 501.4 379.7 503.8 396.2" stroke="#000" stroke-width="1.9"/>
</g>
<g clip-path="url(#c12)" fill="none">
<path d="M279.5 502.7 297.2 481.8 311.8 465.1 323.9 451.9 334.6 441.0 344.0 432.2 352.5 425.3 356.4 422.6 360.3 420.1 363.9 418.2 367.3 416.8 372.4 415.3 374.8 414.9 377.2 414.8 503.8 419.1" stroke="#f2cd6c" stroke-width="0.95" stroke-dasharray="1.9,2.3"/>
<path d="M279.5 501.3 295.8 483.2 309.3 468.7 321.0 457.0 330.9 447.7 339.9 440.2 344.0 437.2 348.1 434.5 351.8 432.3 355.4 430.5 358.8 429.2 362.2 428.1 366.8 427.4 371.2 427.6 503.8 446.7" stroke="#f2cd6c" stroke-width="0.95" stroke-dasharray="1.9,2.3"/>
<path d="M279.5 496.2 285.8 490.9 291.6 485.6 297.2 480.1 302.6 474.4 307.6 468.5 313.2 461.6 330.4 439.0 336.5 431.4 343.0 424.1 348.9 418.7 351.8 416.5 354.7 414.8 357.6 413.4 360.5 412.4 364.6 411.6 375.3 410.3 386.0 407.7 390.3 407.0 393.0 406.9 395.4 407.0 397.8 407.4 400.5 408.1 405.1 409.9 415.5 415.1 418.4 416.1 421.1 416.6 424.0 416.7 426.9 416.4 442.9 412.6 448.0 411.9 452.6 411.6 457.7 411.9 462.3 412.7 466.7 414.2 471.1 416.4 475.9 419.9 480.5 424.3 484.9 429.9 489.0 436.4 492.9 444.0 496.8 453.1 500.4 463.4 503.8 474.5" stroke="#404040" stroke-width="0.95" stroke-dasharray="2.2,2.1"/>
<path d="M279.5 496.6 295.8 482.5 322.2 458.3 328.0 453.4 333.3 449.3 339.9 445.0 346.7 441.4 359.0 436.1 368.0 432.8 372.6 431.5 376.7 430.8 380.9 430.6 384.7 430.8 388.9 431.6 393.0 432.9 397.4 434.8 407.8 440.0 410.9 441.2 413.8 441.9 416.8 442.3 420.1 442.3 432.3 441.1 438.1 440.9 444.1 441.5 449.7 443.0 454.3 445.0 458.7 447.7 462.8 451.2 466.9 455.6 470.8 460.7 474.5 466.7 477.9 473.2 481.2 481.0 484.4 489.3 487.5 499.0 490.5 509.2 493.4 520.8 496.0 532.8 498.7 546.2 501.4 561.2 503.8 576.4" stroke="#404040" stroke-width="0.95" stroke-dasharray="2.2,2.1"/>
<path d="M279.5 501.7 296.7 482.2 310.8 466.9 322.7 454.6 333.1 444.6 342.6 436.4 350.8 430.3 354.7 427.8 358.3 425.8 361.7 424.3 365.1 423.0 370.0 422.0 374.6 421.8 503.8 432.9" stroke="#efbe2a" stroke-width="2.0"/>
<path d="M279.5 519.4 328.3 487.2 358.6 467.4 381.1 453.2 398.6 442.8 406.6 438.5 413.8 434.7 420.6 431.6 426.7 429.1 432.3 427.2 437.6 425.7 442.7 424.8 447.3 424.4 452.4 424.5 457.0 425.3 461.4 426.7 465.7 428.9 469.6 431.6 473.5 435.2 477.1 439.4 480.5 444.2 483.9 450.0 487.1 456.4 490.2 463.8 493.1 471.7 496.0 480.8 498.7 490.3 501.4 500.9 503.8 511.8" stroke="#7aee3a" stroke-width="1.4"/>
<path d="M279.5 508.1 305.5 482.1 324.9 463.5 333.1 456.0 340.6 449.5 347.4 444.0 353.7 439.2 359.8 435.1 365.4 431.8 370.4 429.3 375.3 427.4 379.9 426.3 384.3 425.8 388.4 426.0 392.3 426.9 396.4 428.7 400.5 431.5 404.4 435.2 408.0 439.8 411.7 445.7 415.1 452.4 418.2 460.0 421.4 468.9 424.3 478.4 427.2 489.5 429.8 501.1 432.5 514.2 434.9 527.5 437.4 542.4 442.7 580.4 503.8 580.4" stroke="#2222f0" stroke-width="1.4"/>
<path d="M279.5 560.8 294.3 529.6 306.4 505.1 316.6 486.0 321.2 478.0 325.6 470.9 329.7 464.7 333.3 459.8 337.0 455.4 340.4 452.0 343.5 449.5 346.7 447.7 349.6 446.8 352.3 446.7 355.2 447.4 357.8 449.1 360.5 451.7 363.2 455.4 365.6 459.8 368.0 465.4 370.4 472.2 372.6 479.5 374.8 487.9 377.0 497.7 379.2 508.9 381.1 520.1 385.0 546.5 389.1 580.4 503.8 580.4" stroke="#de2a2a" stroke-width="1.3"/>
<path d="M279.5 498.4 290.9 487.4 301.3 476.7 310.6 466.7 326.8 448.5 332.9 442.0 339.4 435.8 345.0 431.3 348.1 429.3 351.3 427.7 354.4 426.5 357.6 425.6 361.0 425.0 370.9 423.6 384.0 421.0 387.9 420.6 391.8 420.6 395.4 421.0 399.3 421.9 403.4 423.2 413.8 427.2 417.2 428.1 420.4 428.5 423.3 428.5 426.7 428.1 438.6 425.5 443.9 424.7 449.0 424.4 453.8 424.7 458.2 425.6 462.3 427.2 466.2 429.2 469.8 431.8 472.5 434.2 474.9 436.8 477.4 439.7 479.8 443.1 484.2 450.4 488.5 459.6 492.6 470.3 496.5 482.4 500.2 495.9 503.8 511.8" stroke="#000" stroke-width="1.9"/>
</g>
<g clip-path="url(#c13)" fill="none">
<path d="M279.5 684.9 297.5 663.8 312.3 646.9 324.6 633.4 335.3 622.6 345.0 613.7 353.5 606.9 357.4 604.2 361.2 601.8 364.9 600.0 368.3 598.6 373.4 597.2 375.8 596.9 378.2 596.8 503.8 603.7" stroke="#f2cd6c" stroke-width="0.95" stroke-dasharray="1.9,2.3"/>
<path d="M279.5 683.4 296.3 664.9 310.1 650.2 322.0 638.3 332.1 628.8 341.3 621.3 345.5 618.3 349.6 615.6 353.5 613.3 357.1 611.6 360.5 610.3 363.9 609.3 368.7 608.7 371.2 608.7 373.4 609.0 503.8 634.1" stroke="#f2cd6c" stroke-width="0.95" stroke-dasharray="1.9,2.3"/>
<path d="M279.5 679.2 294.1 664.1 306.4 650.6 317.1 638.3 336.0 615.8 343.8 607.2 348.6 602.4 353.2 598.4 357.4 595.6 361.5 593.5 365.6 592.1 370.2 591.3 380.9 590.7 393.0 589.2 396.4 589.2 399.8 589.4 404.6 590.6 409.5 592.6 413.6 595.0 422.1 600.7 425.5 602.5 428.9 603.6 432.0 603.8 435.2 603.3 438.6 602.0 442.7 600.0 455.5 592.8 462.6 589.2 470.8 585.7 478.1 583.4 481.7 582.6 485.4 582.1 488.8 581.9 491.9 582.0 495.1 582.4 498.0 583.1 500.9 584.1 503.8 585.5" stroke="#404040" stroke-width="0.95" stroke-dasharray="2.2,2.1"/>
<path d="M279.5 678.0 289.9 668.1 308.1 650.0 314.9 643.5 322.4 637.0 329.2 632.1 332.9 629.9 337.0 627.8 348.9 622.4 360.7 616.6 366.1 614.3 370.9 612.7 375.3 611.8 379.4 611.3 383.5 611.4 386.9 612.0 390.1 612.9 393.2 614.2 396.4 616.0 399.3 617.9 402.2 620.2 411.2 628.4 414.1 630.8 417.2 632.9 420.4 634.3 423.3 634.9 426.7 634.9 429.8 634.5 438.6 632.6 443.4 631.9 448.8 631.5 453.6 631.6 458.7 632.3 463.3 633.7 467.7 635.6 472.0 638.4 474.5 640.3 476.9 642.6 481.2 647.5 485.4 653.4 489.5 660.7 493.4 669.1 497.0 678.4 500.4 688.7 503.8 700.6" stroke="#404040" stroke-width="0.95" stroke-dasharray="2.2,2.1"/>
<path d="M279.5 684.0 296.7 664.5 311.0 648.9 323.2 636.2 333.6 626.2 343.0 618.0 351.3 611.9 355.2 609.5 358.8 607.5 362.4 605.9 365.8 604.7 370.7 603.7 375.3 603.7 503.8 619.1" stroke="#efbe2a" stroke-width="2.0"/>
<path d="M279.5 719.8 358.6 666.3 381.1 651.3 398.6 639.9 413.8 630.5 426.7 623.0 437.6 617.3 447.3 612.9 452.4 611.0 457.0 609.6 461.4 608.5 465.7 607.8 469.6 607.5 473.5 607.6 477.1 608.0 480.5 608.9 483.9 610.1 487.1 611.7 490.2 613.8 493.1 616.2 496.0 619.0 498.7 622.2 501.4 625.9 503.8 629.7" stroke="#7aee3a" stroke-width="1.4"/>
<path d="M279.5 683.3 306.2 658.3 326.1 640.4 334.6 633.2 342.1 627.1 349.1 621.8 355.4 617.3 361.5 613.5 367.0 610.4 372.4 608.0 377.2 606.4 381.8 605.4 386.2 605.0 390.3 605.3 394.4 606.4 398.8 608.4 402.9 611.4 406.8 615.2 410.4 619.9 414.1 625.8 417.5 632.6 420.6 640.1 423.8 649.0 426.9 659.4 429.8 670.5 432.8 683.2 435.4 696.5 438.1 711.5 440.5 726.7 442.9 743.6 445.4 762.3 503.8 762.4" stroke="#2222f0" stroke-width="1.4"/>
<path d="M279.5 744.0 294.6 711.5 306.9 686.0 317.6 665.4 322.2 657.2 326.6 649.9 330.7 643.5 334.6 638.1 338.2 633.6 341.6 630.1 344.7 627.4 347.9 625.5 350.8 624.5 353.7 624.2 355.2 624.5 356.6 625.0 359.3 626.6 362.0 629.2 364.6 632.9 367.3 637.8 369.7 643.6 372.1 650.5 374.3 658.0 376.5 666.6 378.7 676.6 380.9 688.1 382.8 699.5 386.4 724.7 388.6 742.3 390.8 762.1 391.1 762.4 503.8 762.4" stroke="#de2a2a" stroke-width="1.3"/>
<path d="M279.5 679.5 291.4 667.8 301.8 657.0 311.5 646.4 329.7 625.8 338.0 617.2 343.3 612.5 348.1 609.1 352.7 606.7 357.4 605.3 362.2 604.6 373.6 604.2 386.2 602.7 390.6 602.8 394.4 603.3 399.3 604.8 404.1 607.1 408.5 609.9 416.8 615.9 420.4 618.1 423.8 619.4 426.9 619.8 430.1 619.6 433.5 618.7 449.7 612.0 454.8 610.2 459.4 609.0 464.0 608.1 468.4 607.6 472.5 607.5 476.6 608.0 480.5 608.9 484.4 610.3 488.0 612.3 491.4 614.7 494.6 617.5 497.7 621.0 500.9 625.2 503.8 629.7" stroke="#000" stroke-width="1.9"/>
</g>
<g clip-path="url(#c14)" fill="none">
<path d="M279.5 855.9 298.9 835.8 314.4 820.3 327.5 807.8 338.7 797.9 348.6 789.9 357.4 783.9 361.5 781.5 365.4 779.6 369.0 778.1 372.6 776.9 375.5 776.3 378.2 775.9 380.9 775.9 383.5 776.1 503.8 796.4" stroke="#f2cd6c" stroke-width="0.95" stroke-dasharray="1.9,2.3"/>
<path d="M279.5 855.2 297.5 837.2 312.3 823.0 324.9 811.7 335.5 803.0 340.6 799.2 345.2 796.0 349.6 793.4 353.7 791.1 357.6 789.4 361.5 788.0 365.1 787.1 368.5 786.6 371.2 786.5 373.8 786.7 376.3 787.2 378.7 787.9 503.8 836.4" stroke="#f2cd6c" stroke-width="0.95" stroke-dasharray="1.9,2.3"/>
<path d="M279.5 852.8 295.5 838.1 308.9 825.0 320.0 813.4 338.9 792.9 345.7 786.0 350.1 782.1 354.2 778.9 357.8 776.6 361.5 774.8 363.9 774.0 366.3 773.5 368.7 773.3 371.4 773.3 374.6 773.6 383.1 775.0 392.3 776.1 395.9 776.7 400.3 777.8 404.4 779.5 408.0 781.3 415.8 785.7 419.4 787.3 423.1 788.4 426.7 788.5 430.1 787.9 434.2 786.4 438.6 784.3 452.6 777.0 460.4 773.3 469.1 769.5 477.1 766.7 484.6 764.8 491.7 763.8 498.0 763.8 500.9 764.2 503.8 764.8" stroke="#404040" stroke-width="0.95" stroke-dasharray="2.2,2.1"/>
<path d="M279.5 852.1 300.6 834.0 331.2 806.8 338.7 800.8 345.2 796.4 350.3 793.8 355.7 791.6 361.7 789.9 370.9 787.7 376.7 786.6 381.4 786.2 385.7 786.3 389.6 786.9 392.0 787.6 394.4 788.6 396.9 789.8 399.1 791.2 403.4 794.8 407.5 799.4 411.2 804.3 414.8 810.2 418.2 816.4 424.5 828.7 427.2 833.4 430.1 837.6 432.8 840.3 435.2 841.8 438.1 842.7 440.8 843.0 448.5 843.2 453.1 843.6 458.0 844.5 462.6 845.8 466.9 847.7 471.3 850.2 475.4 853.3 479.3 857.0 482.7 860.8 486.1 865.4 489.2 870.4 492.4 876.2 495.3 882.4 498.2 889.4 501.1 897.4 503.8 905.6" stroke="#404040" stroke-width="0.95" stroke-dasharray="2.2,2.1"/>
<path d="M279.5 855.5 298.0 836.7 312.7 822.1 325.3 810.4 336.3 801.0 346.0 793.7 350.3 790.7 354.7 788.1 358.6 786.1 362.4 784.4 366.1 783.2 369.5 782.4 372.1 782.1 374.8 782.0 377.2 782.1 379.7 782.6 503.8 814.5" stroke="#efbe2a" stroke-width="2.0"/>
<path d="M279.5 904.6 358.6 855.7 398.6 831.5 413.8 822.8 426.7 815.8 437.6 810.4 447.3 806.2 457.0 802.8 461.4 801.6 465.7 800.7 469.6 800.2 473.5 800.0 477.1 800.0 480.5 800.4 483.9 801.2 487.1 802.2 490.2 803.7 493.1 805.4 496.0 807.5 498.7 809.8 501.4 812.6 503.8 815.5" stroke="#7aee3a" stroke-width="1.4"/>
<path d="M279.5 854.3 306.7 831.0 326.8 814.4 335.3 807.8 343.0 802.1 350.1 797.3 356.4 793.3 362.4 789.9 368.3 787.0 373.6 785.0 378.4 783.6 383.1 782.8 387.4 782.7 391.5 783.2 395.7 784.4 400.0 786.5 404.1 789.5 408.0 793.4 411.9 798.5 415.5 804.4 418.9 811.2 422.1 818.7 425.2 827.5 428.4 837.8 431.3 848.7 434.2 861.3 436.9 874.3 439.5 889.0 442.0 903.9 447.1 940.3 503.8 940.3" stroke="#2222f0" stroke-width="1.4"/>
<path d="M279.5 935.3 295.0 902.4 307.9 876.3 318.6 856.0 323.4 847.5 327.8 840.2 331.9 833.9 335.8 828.5 339.4 824.0 343.0 820.2 346.2 817.5 349.4 815.5 352.3 814.4 355.2 814.0 358.1 814.6 360.7 816.0 363.4 818.4 366.1 821.8 368.5 826.0 370.9 831.3 373.4 837.7 375.5 844.7 377.7 852.8 379.9 862.1 382.1 872.9 384.0 883.7 387.9 909.1 391.8 940.3 503.8 940.3" stroke="#de2a2a" stroke-width="1.3"/>
<path d="M279.5 852.6 305.0 829.9 334.3 802.4 343.0 794.9 349.4 790.5 355.2 787.4 361.0 785.3 368.3 783.7 380.6 781.9 386.9 781.5 390.1 781.7 393.0 782.1 395.9 782.9 398.6 783.9 402.9 786.2 407.3 789.4 412.1 793.9 420.4 803.1 423.5 806.2 426.9 808.8 428.6 809.7 430.3 810.2 433.5 810.5 437.4 809.9 440.8 808.7 453.6 803.9 458.5 802.4 462.8 801.3 466.7 800.6 470.3 800.1 473.7 799.9 477.1 800.0 481.0 800.5 484.6 801.4 488.3 802.7 491.7 804.5 494.8 806.5 498.0 809.1 500.9 812.0 503.8 815.5" stroke="#000" stroke-width="1.9"/>
</g>
<g clip-path="url(#c20)" fill="none">
<path d="M504.0 138.5 525.1 118.0 541.7 102.4 555.5 90.0 567.4 80.1 577.9 72.4 582.7 69.3 587.1 66.7 591.2 64.6 595.4 62.8 599.2 61.5 602.9 60.7 606.0 60.3 609.2 60.2 612.1 60.5 615.0 61.2 728.7 98.4" stroke="#f2cd6c" stroke-width="0.95" stroke-dasharray="1.9,2.3"/>
<path d="M504.0 137.7 524.7 118.4 540.9 103.8 554.5 92.4 566.2 83.5 571.5 79.9 576.4 76.9 581.3 74.2 585.6 72.1 589.8 70.5 593.9 69.3 597.8 68.7 601.4 68.5 604.6 68.7 607.5 69.3 610.4 70.2 613.1 71.5 728.7 139.5" stroke="#f2cd6c" stroke-width="0.95" stroke-dasharray="1.9,2.3"/>
<path d="M504.0 135.2 518.1 123.3 531.7 110.6 543.6 98.5 565.0 75.5 573.2 67.3 577.9 63.2 582.0 60.0 586.1 57.3 590.0 55.3 594.6 53.4 599.2 52.2 604.3 51.4 609.7 51.2 614.5 51.5 619.4 52.5 623.8 54.0 634.2 58.2 637.4 59.1 640.3 59.5 643.2 59.5 646.4 59.2 657.5 56.9 662.9 56.1 668.2 55.8 673.1 56.2 678.0 57.2 682.6 58.9 686.9 61.4 691.1 64.5 695.0 68.4 698.6 72.9 702.2 78.4 705.6 84.6 708.8 91.3 712.0 99.2 715.1 108.3 718.0 118.0 721.0 129.0 723.6 140.4 726.3 153.2 728.7 166.1" stroke="#404040" stroke-width="0.95" stroke-dasharray="2.2,2.1"/>
<path d="M504.0 135.1 530.2 112.3 542.9 101.8 548.5 97.5 553.8 93.7 558.9 90.4 564.0 87.4 571.1 83.7 578.4 80.3 584.2 78.1 589.5 76.5 594.4 75.7 599.0 75.6 603.4 76.1 607.7 77.3 610.9 78.7 613.8 80.4 616.7 82.5 619.9 85.2 625.2 90.8 635.9 103.8 638.4 106.3 640.8 108.5 645.2 111.7 655.6 117.6 658.3 119.4 660.7 121.5 663.4 124.1 665.8 126.8 668.2 130.0 670.4 133.3 674.3 140.1 678.0 147.9 681.6 157.1 685.0 167.3 688.2 178.3 691.3 191.0 694.2 204.3 697.1 219.5 697.4 219.6 728.7 219.6" stroke="#404040" stroke-width="0.95" stroke-dasharray="2.2,2.1"/>
<path d="M504.0 138.3 524.7 118.4 540.9 103.3 554.5 91.3 566.2 81.9 576.4 74.7 581.3 71.7 585.6 69.4 589.8 67.5 593.9 66.0 597.5 65.0 601.2 64.4 604.3 64.3 607.3 64.5 610.2 65.0 613.1 66.0 728.7 116.2" stroke="#efbe2a" stroke-width="2.0"/>
<path d="M504.0 165.3 547.7 136.1 576.2 117.6 597.5 104.4 606.3 99.3 614.3 95.0 621.8 91.3 628.9 88.2 635.2 85.8 641.3 84.0 646.9 82.9 652.0 82.5 656.8 82.6 661.4 83.4 665.6 84.7 669.7 86.7 673.3 89.1 677.0 92.3 680.4 96.0 683.8 100.5 686.9 105.6 689.9 111.0 693.7 119.7 697.4 129.4 701.0 141.0 704.4 153.6 707.6 167.2 710.7 182.7 713.9 200.5 716.8 219.2 717.1 219.6 728.7 219.6" stroke="#7aee3a" stroke-width="1.4"/>
<path d="M504.0 141.6 527.8 118.7 546.0 102.1 553.8 95.3 560.9 89.5 567.4 84.5 573.5 80.2 579.3 76.5 584.7 73.5 589.8 71.2 594.4 69.7 598.8 68.7 603.1 68.4 607.0 68.7 610.9 69.6 615.0 71.5 619.2 74.4 623.0 78.2 626.7 82.9 630.1 88.3 633.5 95.0 636.7 102.4 639.8 111.2 642.7 120.7 645.6 131.6 648.3 143.0 651.0 155.9 653.4 169.1 655.8 183.7 660.9 219.6 728.7 219.6" stroke="#2222f0" stroke-width="1.4"/>
<path d="M504.0 219.6 509.8 219.6 510.1 219.4 525.4 187.7 537.8 163.4 543.1 153.6 548.2 144.7 552.8 137.2 557.2 130.6 560.4 126.3 563.5 122.4 566.4 119.3 569.1 116.8 571.8 114.8 574.5 113.3 576.9 112.5 579.3 112.2 582.0 112.6 584.7 113.9 587.1 115.8 589.5 118.6 592.0 122.3 594.1 126.6 596.3 131.8 598.5 137.9 600.7 145.2 602.6 152.7 604.8 162.3 606.8 171.9 610.4 193.4 614.1 219.6 728.7 219.6" stroke="#de2a2a" stroke-width="1.3"/>
<path d="M504.0 136.4 548.7 95.1 556.7 87.9 563.0 82.6 569.8 77.3 576.2 73.2 582.2 70.0 588.3 67.6 594.9 65.9 601.4 64.9 607.0 64.8 612.4 65.5 616.7 66.8 621.1 68.8 625.2 71.2 635.0 77.6 637.9 79.1 640.5 80.3 643.2 81.1 646.1 81.6 658.8 82.8 661.9 83.5 664.8 84.4 668.5 86.0 672.1 88.2 675.5 90.9 678.9 94.3 682.1 98.2 685.0 102.4 687.9 107.3 690.8 113.1 694.5 121.5 698.1 131.6 701.5 142.7 704.9 155.6 708.1 169.4 711.0 184.0 713.9 200.5 716.8 219.2 717.1 219.6 728.7 219.6" stroke="#000" stroke-width="1.9"/>
</g>
<g clip-path="url(#c21)" fill="none">
<path d="M504.0 320.4 522.7 301.4 538.0 286.4 550.9 274.2 561.8 264.6 571.8 256.7 580.5 250.6 584.4 248.3 588.3 246.2 592.0 244.6 595.6 243.3 601.2 242.1 603.9 241.8 606.3 241.9 728.7 250.9" stroke="#f2cd6c" stroke-width="0.95" stroke-dasharray="1.9,2.3"/>
<path d="M504.0 320.4 521.0 303.0 534.9 289.3 546.8 278.3 557.0 269.5 566.4 262.3 574.7 257.0 578.6 254.9 582.2 253.3 585.6 252.1 589.0 251.2 593.9 250.6 598.5 251.0 728.7 275.6" stroke="#f2cd6c" stroke-width="0.95" stroke-dasharray="1.9,2.3"/>
<path d="M504.0 316.5 520.0 301.8 533.9 288.6 545.3 277.2 564.5 257.1 572.0 249.8 576.9 245.7 581.5 242.3 585.9 239.9 590.0 238.2 594.6 237.2 600.2 236.8 616.5 237.0 620.1 237.4 623.5 238.0 627.9 239.3 632.5 241.5 636.7 244.1 644.7 249.6 648.1 251.6 651.5 253.0 654.6 253.5 658.0 253.3 662.2 252.2 679.2 245.2 688.2 242.0 695.4 240.2 702.0 239.2 705.9 238.9 709.5 239.1 713.2 239.5 716.6 240.3 719.7 241.4 722.9 242.9 725.8 244.6 728.7 246.8" stroke="#404040" stroke-width="0.95" stroke-dasharray="2.2,2.1"/>
<path d="M504.0 315.4 523.7 299.2 551.4 274.9 558.2 269.7 564.0 266.0 568.9 263.6 573.7 261.9 587.3 258.8 597.5 256.3 601.4 255.6 605.1 255.1 608.5 255.0 611.9 255.2 615.5 255.8 619.2 256.9 622.6 258.3 626.0 260.2 629.1 262.4 632.3 264.9 641.8 273.7 644.9 276.4 648.1 278.6 651.2 280.0 654.1 280.6 657.5 280.6 660.7 280.2 668.7 278.6 673.1 277.9 677.7 277.6 682.1 277.7 686.7 278.4 691.1 279.7 695.2 281.6 699.1 284.0 703.5 287.8 707.6 292.3 711.5 297.7 715.4 304.4 719.0 312.0 722.4 320.3 725.6 329.4 728.7 339.8" stroke="#404040" stroke-width="0.95" stroke-dasharray="2.2,2.1"/>
<path d="M504.0 320.3 522.0 302.1 536.8 287.6 549.2 276.0 559.9 266.8 569.4 259.5 577.9 253.8 581.8 251.6 585.6 249.7 589.3 248.3 592.7 247.3 597.8 246.4 602.6 246.4 728.7 263.1" stroke="#efbe2a" stroke-width="2.0"/>
<path d="M504.0 370.3 583.2 316.2 605.8 301.1 623.3 289.7 638.6 280.2 651.5 272.9 662.4 267.3 672.1 263.2 677.2 261.4 681.8 260.2 686.2 259.3 690.6 258.8 694.5 258.8 698.4 259.2 702.0 260.0 705.4 261.2 708.8 262.8 712.0 264.9 715.1 267.4 718.0 270.3 721.0 273.8 723.6 277.6 726.3 281.9 728.7 286.5" stroke="#7aee3a" stroke-width="1.4"/>
<path d="M504.0 317.5 531.2 295.2 551.4 279.4 559.9 273.1 567.7 267.6 574.7 263.0 581.3 259.0 587.3 255.8 593.2 253.1 598.5 251.1 603.6 249.7 608.2 249.0 612.6 249.0 616.7 249.5 620.9 250.7 625.2 252.8 629.4 255.8 633.3 259.5 637.1 264.5 640.8 270.3 644.2 276.8 647.3 284.1 650.5 292.7 653.4 301.8 656.3 312.3 659.2 324.3 661.9 336.8 664.6 350.9 667.0 365.2 672.4 401.5 728.7 401.5" stroke="#2222f0" stroke-width="1.4"/>
<path d="M504.0 401.5 507.7 401.5 507.9 401.1 524.7 364.9 538.0 337.3 549.2 316.0 554.3 307.0 558.9 299.4 562.6 293.9 566.2 288.9 569.6 284.8 572.8 281.5 575.9 278.9 578.8 277.1 581.5 276.0 584.2 275.7 587.1 276.2 589.8 277.5 592.4 279.8 595.1 283.2 597.5 287.3 600.0 292.6 602.4 299.0 604.6 306.0 606.8 314.1 609.0 323.4 611.1 334.2 613.1 345.0 617.0 370.6 620.9 401.5 728.7 401.5" stroke="#de2a2a" stroke-width="1.3"/>
<path d="M504.0 315.9 531.7 292.5 542.9 282.6 562.3 265.0 571.1 257.7 576.9 253.6 582.2 250.7 587.3 248.8 592.7 247.7 599.5 247.2 612.1 247.0 617.7 247.5 622.6 248.7 627.2 250.5 631.8 253.2 636.2 256.4 644.4 263.2 647.8 265.5 651.2 267.2 654.4 267.9 657.5 267.9 660.9 267.2 676.5 261.6 681.1 260.3 685.5 259.4 689.9 258.9 694.2 258.8 698.1 259.1 702.0 260.0 705.9 261.4 709.5 263.2 713.2 265.8 716.6 268.8 719.7 272.3 722.9 276.5 725.8 281.1 728.7 286.5" stroke="#000" stroke-width="1.9"/>
</g>
<g clip-path="url(#c22)" fill="none">
<path d="M504.0 501.7 522.2 483.8 537.1 469.6 549.7 458.1 560.4 448.9 570.1 441.3 578.6 435.5 586.4 431.1 590.0 429.4 593.4 428.1 598.8 426.7 603.6 426.2 728.7 425.6" stroke="#f2cd6c" stroke-width="0.95" stroke-dasharray="1.9,2.3"/>
<path d="M504.0 501.9 520.0 485.8 533.4 472.9 545.1 462.2 555.0 453.8 564.0 447.0 572.0 441.8 575.7 439.8 579.3 438.1 582.7 436.8 586.1 435.8 590.5 435.0 594.9 434.9 728.7 446.2" stroke="#f2cd6c" stroke-width="0.95" stroke-dasharray="1.9,2.3"/>
<path d="M504.0 496.5 522.0 482.3 529.3 476.1 535.8 470.3 545.6 461.0 564.5 441.4 571.8 434.4 575.2 431.6 578.4 429.3 581.3 427.6 584.2 426.2 587.8 425.1 591.7 424.5 595.1 424.5 603.4 425.2 608.0 424.9 612.4 424.0 621.6 421.2 626.2 420.0 631.3 419.1 636.4 418.8 641.5 419.1 646.9 420.0 651.5 421.2 660.7 424.2 664.3 425.1 668.0 425.5 671.4 425.3 675.0 424.5 678.9 423.0 698.1 413.0 703.7 410.5 709.0 408.5 714.4 407.0 719.5 406.1 724.4 405.9 728.7 406.3" stroke="#404040" stroke-width="0.95" stroke-dasharray="2.2,2.1"/>
<path d="M504.0 495.2 519.3 484.8 531.0 476.6 543.1 467.6 564.7 450.8 570.3 446.9 575.2 444.0 578.4 442.4 581.3 441.3 584.2 440.4 587.3 439.7 591.7 439.1 612.6 437.5 617.2 437.5 621.3 437.9 625.5 438.7 629.6 440.0 633.0 441.5 636.7 443.4 650.5 451.8 653.9 453.3 657.3 454.3 660.5 454.7 664.1 454.6 678.7 452.4 682.8 452.0 686.5 451.9 690.3 452.1 694.2 452.6 697.9 453.5 701.5 454.8 705.4 456.6 709.3 459.1 712.9 462.0 716.3 465.4 719.5 469.2 722.7 473.7 725.8 478.9 728.7 484.5" stroke="#404040" stroke-width="0.95" stroke-dasharray="2.2,2.1"/>
<path d="M504.0 501.7 521.5 484.4 535.8 470.7 548.0 459.7 558.4 450.9 567.9 443.6 576.2 438.1 583.7 434.1 587.3 432.5 590.7 431.4 595.8 430.3 600.5 430.1 728.7 436.9" stroke="#efbe2a" stroke-width="2.0"/>
<path d="M504.0 560.7 583.2 501.8 623.3 472.6 638.6 461.9 651.5 453.3 662.4 446.5 672.1 441.0 681.8 436.3 686.2 434.5 690.6 433.0 694.5 431.9 698.4 431.2 702.0 430.7 705.4 430.7 708.8 430.9 712.0 431.5 715.1 432.4 718.0 433.7 721.0 435.3 723.6 437.2 726.3 439.5 728.7 442.0" stroke="#7aee3a" stroke-width="1.4"/>
<path d="M504.0 496.7 536.8 474.5 560.1 459.3 578.4 448.2 586.1 444.0 593.2 440.4 600.0 437.3 606.3 434.9 612.1 433.1 617.5 432.0 622.6 431.5 627.2 431.5 631.6 432.1 635.9 433.4 640.5 435.6 644.9 438.6 649.0 442.5 652.9 447.2 656.6 452.6 660.2 459.2 663.6 466.6 666.8 474.6 669.9 484.0 672.9 493.9 675.8 505.3 678.7 518.1 681.4 531.5 684.0 546.4 686.7 563.2 689.1 580.1 689.4 580.4 728.7 580.4" stroke="#2222f0" stroke-width="1.4"/>
<path d="M504.0 580.4 505.2 580.4 505.5 580.1 522.2 544.2 535.8 516.4 547.0 495.0 552.1 485.9 556.7 478.1 560.9 471.7 564.7 466.2 568.4 461.6 572.0 457.7 575.2 455.0 578.4 452.9 581.3 451.7 584.2 451.2 587.1 451.7 588.6 452.3 590.0 453.1 592.7 455.5 595.4 458.9 598.0 463.5 600.5 468.8 602.9 475.4 605.1 482.4 607.3 490.6 609.4 500.1 611.6 510.9 613.6 521.9 617.2 545.8 621.6 580.4 728.7 580.4" stroke="#de2a2a" stroke-width="1.3"/>
<path d="M504.0 495.7 522.5 482.4 536.3 471.6 547.3 462.3 565.5 445.7 571.8 440.5 575.7 437.8 579.3 435.6 583.0 433.9 586.4 432.9 589.0 432.4 592.0 432.2 601.2 432.4 605.1 432.2 609.2 431.7 618.2 429.9 622.6 429.2 627.4 428.9 632.0 429.0 637.4 429.9 642.7 431.4 647.6 433.4 656.8 437.7 660.5 439.1 663.9 439.9 667.3 440.1 670.4 439.8 674.1 439.0 687.9 433.9 694.5 431.9 701.0 430.8 706.9 430.7 710.0 431.1 712.9 431.7 715.8 432.7 718.5 433.9 721.2 435.5 723.9 437.4 726.3 439.5 728.7 442.0" stroke="#000" stroke-width="1.9"/>
</g>
<g clip-path="url(#c23)" fill="none">
<path d="M504.0 683.6 524.2 663.5 540.2 648.1 553.6 635.7 565.0 625.9 575.2 618.0 584.2 612.1 588.3 609.7 592.4 607.7 596.1 606.3 599.7 605.1 602.9 604.5 605.8 604.1 608.7 604.1 611.4 604.4 728.7 626.2" stroke="#f2cd6c" stroke-width="0.95" stroke-dasharray="1.9,2.3"/>
<path d="M504.0 683.3 523.7 664.0 539.5 649.0 552.6 637.2 564.0 627.8 569.4 623.8 574.2 620.5 578.8 617.6 583.2 615.2 587.3 613.3 591.2 611.8 594.9 610.8 598.5 610.2 601.4 610.0 604.3 610.2 607.0 610.6 609.7 611.4 728.7 659.0" stroke="#f2cd6c" stroke-width="0.95" stroke-dasharray="1.9,2.3"/>
<path d="M504.0 679.9 523.4 662.4 538.0 648.8 549.7 637.4 568.6 618.1 575.7 611.4 580.3 607.5 584.7 604.3 588.8 601.9 592.7 600.3 596.3 599.2 600.5 598.6 620.6 597.5 626.7 597.7 629.4 598.2 632.0 598.9 635.0 600.0 637.6 601.3 640.3 603.0 643.0 605.0 647.8 609.3 656.8 618.7 660.2 621.6 661.9 622.6 663.6 623.4 665.3 623.9 667.0 624.0 670.2 623.6 674.1 622.1 694.7 610.8 701.5 607.5 707.8 604.8 713.7 602.8 719.0 601.4 724.1 600.6 728.7 600.3" stroke="#404040" stroke-width="0.95" stroke-dasharray="2.2,2.1"/>
<path d="M504.0 684.8 517.1 674.7 529.0 665.2 541.7 654.6 564.3 634.7 570.3 629.8 575.4 626.3 578.6 624.5 581.8 623.0 584.9 621.9 588.3 620.9 594.6 619.9 610.7 618.5 616.5 618.6 619.2 619.0 621.8 619.6 626.7 621.5 631.6 624.3 635.4 627.5 639.6 631.6 643.2 635.8 650.7 645.2 653.7 648.5 656.6 651.1 659.5 653.0 661.2 653.6 662.9 654.1 666.5 654.3 669.7 654.1 681.8 652.6 686.2 652.4 690.3 652.4 697.1 653.1 703.5 654.6 707.1 656.0 710.5 657.6 713.9 659.7 717.1 662.0 720.2 664.8 723.1 667.8 726.1 671.3 728.7 675.0" stroke="#404040" stroke-width="0.95" stroke-dasharray="2.2,2.1"/>
<path d="M504.0 683.4 523.9 663.7 539.7 648.6 552.8 636.7 564.3 627.1 574.5 619.5 579.1 616.5 583.5 613.9 587.6 611.8 591.5 610.1 595.1 608.9 598.8 608.0 601.7 607.6 604.6 607.5 607.5 607.7 610.2 608.3 728.7 642.6" stroke="#efbe2a" stroke-width="2.0"/>
<path d="M504.0 720.1 583.2 680.2 623.3 660.4 651.5 647.1 662.4 642.3 672.1 638.4 681.8 634.9 690.6 632.2 698.4 630.5 705.4 629.6 712.0 629.4 718.0 630.0 723.6 631.4 728.7 633.6" stroke="#7aee3a" stroke-width="1.4"/>
<path d="M504.0 681.1 533.4 658.1 555.0 641.8 564.0 635.4 572.0 630.0 579.3 625.4 586.1 621.4 592.4 618.1 598.5 615.4 604.1 613.3 609.2 612.0 614.1 611.3 618.7 611.2 622.8 611.7 626.9 612.8 631.3 614.9 635.7 617.9 639.6 621.6 643.5 626.4 647.1 632.0 650.5 638.3 653.9 646.0 657.1 654.3 660.2 664.0 663.1 674.4 666.0 686.3 668.7 698.6 671.4 712.4 673.8 726.5 679.2 762.4 728.7 762.4" stroke="#2222f0" stroke-width="1.4"/>
<path d="M504.0 762.4 511.1 762.4 529.5 722.5 543.6 693.5 549.7 681.7 555.3 671.4 560.4 662.6 565.2 654.8 568.6 649.9 572.0 645.4 575.2 641.8 578.1 638.9 581.0 636.6 583.7 635.0 586.4 634.1 588.8 633.8 591.7 634.3 594.4 635.7 597.1 638.0 599.7 641.4 602.4 646.1 604.8 651.4 607.3 658.0 609.4 665.1 611.6 673.4 613.8 683.0 616.0 694.0 617.9 705.0 621.6 729.3 625.7 762.4 728.7 762.4" stroke="#de2a2a" stroke-width="1.3"/>
<path d="M504.0 678.2 523.2 663.3 537.8 651.5 549.4 641.5 568.4 624.6 575.4 618.8 580.3 615.3 584.7 612.8 588.8 611.0 592.9 609.9 596.1 609.4 599.7 609.2 618.7 609.6 624.5 610.3 627.2 610.9 629.9 611.9 632.5 613.1 635.2 614.6 637.9 616.4 640.5 618.5 645.2 622.8 654.1 632.3 657.5 635.3 660.9 637.5 662.6 638.2 664.3 638.6 667.3 638.8 670.7 638.3 674.6 637.3 686.0 633.6 692.0 631.9 699.1 630.4 705.6 629.5 712.0 629.4 718.0 630.0 723.6 631.4 728.7 633.6" stroke="#000" stroke-width="1.9"/>
</g>
<g clip-path="url(#c24)" fill="none">
<path d="M504.0 864.7 524.2 845.9 540.2 831.4 553.6 819.8 565.0 810.5 575.2 803.0 584.2 797.3 588.3 795.0 592.4 793.0 596.1 791.5 599.7 790.3 602.9 789.6 605.8 789.1 608.7 789.0 611.4 789.1 728.7 802.2" stroke="#f2cd6c" stroke-width="0.95" stroke-dasharray="1.9,2.3"/>
<path d="M504.0 864.1 522.7 847.1 538.0 833.7 550.9 823.0 561.8 814.7 571.5 808.1 580.3 803.1 584.2 801.3 588.1 799.8 591.7 798.7 595.4 797.9 600.7 797.5 603.4 797.7 605.8 798.2 728.7 828.2" stroke="#f2cd6c" stroke-width="0.95" stroke-dasharray="1.9,2.3"/>
<path d="M504.0 851.1 512.8 845.7 521.3 840.1 529.5 834.4 537.8 828.2 550.4 818.1 573.5 798.3 581.8 791.7 585.4 789.1 588.8 787.1 592.0 785.5 595.1 784.2 599.0 783.3 602.6 783.0 606.5 783.4 610.7 784.3 616.0 786.2 622.1 788.8 627.2 791.4 636.2 796.5 639.8 798.2 644.2 799.6 646.4 799.9 648.6 799.9 652.2 799.4 656.8 798.2 684.8 788.5 694.2 785.5 702.5 783.2 709.8 781.4 716.6 780.1 722.9 779.2 728.7 778.8" stroke="#404040" stroke-width="0.95" stroke-dasharray="2.2,2.1"/>
<path d="M504.0 850.6 511.8 846.1 519.3 841.5 543.9 825.0 548.7 822.1 553.3 819.6 559.2 817.0 587.1 805.1 591.2 803.7 595.1 802.7 599.0 801.9 602.6 801.5 606.3 801.4 609.7 801.6 613.1 802.2 616.5 803.1 622.8 805.6 632.5 810.6 636.2 812.3 639.8 813.5 643.5 814.2 646.9 814.4 650.5 814.1 668.7 811.2 674.3 810.5 679.7 810.2 685.0 810.1 689.9 810.4 694.7 811.0 699.1 812.0 703.5 813.4 707.6 815.1 711.5 817.3 715.4 819.9 719.0 823.0 722.4 826.4 725.6 830.2 728.7 834.5" stroke="#404040" stroke-width="0.95" stroke-dasharray="2.2,2.1"/>
<path d="M504.0 864.3 523.9 846.1 540.0 832.0 553.3 820.8 564.7 811.9 574.9 804.7 583.9 799.4 588.1 797.3 592.0 795.6 595.6 794.4 599.2 793.4 602.2 792.9 605.1 792.7 607.7 792.7 610.4 793.0 728.7 815.5" stroke="#efbe2a" stroke-width="2.0"/>
<path d="M504.0 868.7 583.2 836.0 623.3 819.8 638.6 813.9 651.5 809.2 662.4 805.6 672.1 802.7 681.8 800.3 690.6 798.8 698.4 798.1 705.4 798.2 712.0 799.2 718.0 801.0 723.6 803.6 728.7 807.1" stroke="#7aee3a" stroke-width="1.4"/>
<path d="M504.0 862.5 529.5 842.1 549.0 827.2 564.5 816.3 571.3 812.0 577.6 808.3 583.7 805.1 589.3 802.6 594.4 800.7 599.2 799.4 603.9 798.7 608.2 798.6 612.4 799.1 616.2 800.1 620.6 802.1 624.8 804.8 628.6 808.4 632.3 812.7 635.9 818.1 639.3 824.3 642.5 831.1 645.6 839.2 648.6 847.8 651.5 857.7 654.4 869.0 657.1 880.8 659.5 892.8 661.9 906.2 667.3 940.3 728.7 940.3" stroke="#2222f0" stroke-width="1.4"/>
<path d="M504.0 940.3 514.2 940.3 528.3 910.9 539.5 888.7 549.2 870.7 557.7 856.5 561.6 850.7 565.2 845.8 568.6 841.7 571.8 838.5 574.9 835.8 577.9 834.0 580.8 832.9 583.5 832.5 586.1 832.9 588.8 834.1 591.2 836.1 593.7 838.9 596.1 842.6 598.3 846.9 600.5 852.1 602.6 858.2 604.8 865.5 606.8 873.0 609.0 882.6 610.9 892.4 614.5 913.9 618.2 940.2 618.4 940.3 728.7 940.3" stroke="#de2a2a" stroke-width="1.3"/>
<path d="M504.0 851.6 517.6 842.6 530.7 833.6 542.9 824.8 563.0 809.9 571.3 804.2 576.6 801.0 581.8 798.5 586.6 796.6 591.7 795.3 598.3 794.4 606.3 794.0 612.4 794.1 617.7 794.9 622.1 796.1 626.5 797.8 630.3 799.8 638.6 804.3 642.0 805.8 645.4 807.0 648.8 807.6 652.7 807.6 657.1 806.9 675.3 801.8 685.2 799.6 693.0 798.5 700.3 798.0 704.4 798.2 708.6 798.6 712.2 799.2 715.8 800.2 719.3 801.5 722.7 803.1 725.8 805.0 728.7 807.1" stroke="#000" stroke-width="1.9"/>
</g>
<path d="M47.22,179.60V176.90M47.22,2.30V5.00M50.43,179.60V176.90M50.43,2.30V5.00M53.30,179.60V174.40M53.30,2.30V7.50M72.17,179.60V176.90M72.17,2.30V5.00M83.22,179.60V176.90M83.22,2.30V5.00M91.05,179.60V176.90M91.05,2.30V5.00M97.13,179.60V176.90M97.13,2.30V5.00M102.09,179.60V176.90M102.09,2.30V5.00M106.29,179.60V176.90M106.29,2.30V5.00M109.92,179.60V176.90M109.92,2.30V5.00M113.13,179.60V176.90M113.13,2.30V5.00M116.00,179.60V174.40M116.00,2.30V7.50M134.87,179.60V176.90M134.87,2.30V5.00M145.92,179.60V176.90M145.92,2.30V5.00M153.75,179.60V176.90M153.75,2.30V5.00M159.83,179.60V176.90M159.83,2.30V5.00M164.79,179.60V176.90M164.79,2.30V5.00M168.99,179.60V176.90M168.99,2.30V5.00M172.62,179.60V176.90M172.62,2.30V5.00M175.83,179.60V176.90M175.83,2.30V5.00M178.70,179.60V174.40M178.70,2.30V7.50M197.57,179.60V176.90M197.57,2.30V5.00M208.62,179.60V176.90M208.62,2.30V5.00M216.45,179.60V176.90M216.45,2.30V5.00M222.53,179.60V176.90M222.53,2.30V5.00M227.49,179.60V176.90M227.49,2.30V5.00M231.69,179.60V176.90M231.69,2.30V5.00M235.32,179.60V176.90M235.32,2.30V5.00M238.53,179.60V176.90M238.53,2.30V5.00M241.40,179.60V174.40M241.40,2.30V7.50M260.27,179.60V176.90M260.27,2.30V5.00M271.32,179.60V176.90M271.32,2.30V5.00M279.15,179.60V176.90M279.15,2.30V5.00M47.20,174.15H50.50M279.10,174.15H275.80M47.20,169.78H50.50M279.10,169.78H275.80M47.20,166.21H50.50M279.10,166.21H275.80M47.20,163.19H50.50M279.10,163.19H275.80M47.20,160.58H50.50M279.10,160.58H275.80M47.20,158.27H50.50M279.10,158.27H275.80M47.20,156.21H53.80M279.10,156.21H272.50M47.20,142.64H50.50M279.10,142.64H275.80M47.20,134.71H50.50M279.10,134.71H275.80M47.20,129.08H50.50M279.10,129.08H275.80M47.20,124.71H50.50M279.10,124.71H275.80M47.20,121.14H50.50M279.10,121.14H275.80M47.20,118.12H50.50M279.10,118.12H275.80M47.20,115.51H50.50M279.10,115.51H275.80M47.20,113.20H50.50M279.10,113.20H275.80M47.20,111.14H53.80M279.10,111.14H272.50M47.20,97.57H50.50M279.10,97.57H275.80M47.20,89.64H50.50M279.10,89.64H275.80M47.20,84.01H50.50M279.10,84.01H275.80M47.20,79.64H50.50M279.10,79.64H275.80M47.20,76.07H50.50M279.10,76.07H275.80M47.20,73.05H50.50M279.10,73.05H275.80M47.20,70.44H50.50M279.10,70.44H275.80M47.20,68.13H50.50M279.10,68.13H275.80M47.20,66.07H53.80M279.10,66.07H272.50M47.20,52.50H50.50M279.10,52.50H275.80M47.20,44.57H50.50M279.10,44.57H275.80M47.20,38.94H50.50M279.10,38.94H275.80M47.20,34.57H50.50M279.10,34.57H275.80M47.20,31.00H50.50M279.10,31.00H275.80M47.20,27.98H50.50M279.10,27.98H275.80M47.20,25.37H50.50M279.10,25.37H275.80M47.20,23.06H50.50M279.10,23.06H275.80M47.20,21.00H53.80M279.10,21.00H272.50M47.20,7.43H50.50M279.10,7.43H275.80M47.22,361.50V358.80M47.22,179.60V182.30M50.43,361.50V358.80M50.43,179.60V182.30M53.30,361.50V356.30M53.30,179.60V184.80M72.17,361.50V358.80M72.17,179.60V182.30M83.22,361.50V358.80M83.22,179.60V182.30M91.05,361.50V358.80M91.05,179.60V182.30M97.13,361.50V358.80M97.13,179.60V182.30M102.09,361.50V358.80M102.09,179.60V182.30M106.29,361.50V358.80M106.29,179.60V182.30M109.92,361.50V358.80M109.92,179.60V182.30M113.13,361.50V358.80M113.13,179.60V182.30M116.00,361.50V356.30M116.00,179.60V184.80M134.87,361.50V358.80M134.87,179.60V182.30M145.92,361.50V358.80M145.92,179.60V182.30M153.75,361.50V358.80M153.75,179.60V182.30M159.83,361.50V358.80M159.83,179.60V182.30M164.79,361.50V358.80M164.79,179.60V182.30M168.99,361.50V358.80M168.99,179.60V182.30M172.62,361.50V358.80M172.62,179.60V182.30M175.83,361.50V358.80M175.83,179.60V182.30M178.70,361.50V356.30M178.70,179.60V184.80M197.57,361.50V358.80M197.57,179.60V182.30M208.62,361.50V358.80M208.62,179.60V182.30M216.45,361.50V358.80M216.45,179.60V182.30M222.53,361.50V358.80M222.53,179.60V182.30M227.49,361.50V358.80M227.49,179.60V182.30M231.69,361.50V358.80M231.69,179.60V182.30M235.32,361.50V358.80M235.32,179.60V182.30M238.53,361.50V358.80M238.53,179.60V182.30M241.40,361.50V356.30M241.40,179.60V184.80M260.27,361.50V358.80M260.27,179.60V182.30M271.32,361.50V358.80M271.32,179.60V182.30M279.15,361.50V358.80M279.15,179.60V182.30M47.20,356.49H50.50M279.10,356.49H275.80M47.20,352.01H50.50M279.10,352.01H275.80M47.20,348.35H50.50M279.10,348.35H275.80M47.20,345.25H50.50M279.10,345.25H275.80M47.20,342.57H50.50M279.10,342.57H275.80M47.20,340.21H50.50M279.10,340.21H275.80M47.20,338.09H53.80M279.10,338.09H272.50M47.20,324.17H50.50M279.10,324.17H275.80M47.20,316.03H50.50M279.10,316.03H275.80M47.20,310.26H50.50M279.10,310.26H275.80M47.20,305.78H50.50M279.10,305.78H275.80M47.20,302.12H50.50M279.10,302.12H275.80M47.20,299.02H50.50M279.10,299.02H275.80M47.20,296.34H50.50M279.10,296.34H275.80M47.20,293.98H50.50M279.10,293.98H275.80M47.20,291.86H53.80M279.10,291.86H272.50M47.20,277.94H50.50M279.10,277.94H275.80M47.20,269.80H50.50M279.10,269.80H275.80M47.20,264.03H50.50M279.10,264.03H275.80M47.20,259.55H50.50M279.10,259.55H275.80M47.20,255.89H50.50M279.10,255.89H275.80M47.20,252.79H50.50M279.10,252.79H275.80M47.20,250.11H50.50M279.10,250.11H275.80M47.20,247.75H50.50M279.10,247.75H275.80M47.20,245.63H53.80M279.10,245.63H272.50M47.20,231.71H50.50M279.10,231.71H275.80M47.20,223.57H50.50M279.10,223.57H275.80M47.20,217.80H50.50M279.10,217.80H275.80M47.20,213.32H50.50M279.10,213.32H275.80M47.20,209.66H50.50M279.10,209.66H275.80M47.20,206.56H50.50M279.10,206.56H275.80M47.20,203.88H50.50M279.10,203.88H275.80M47.20,201.52H50.50M279.10,201.52H275.80M47.20,199.40H53.80M279.10,199.40H272.50M47.20,185.48H50.50M279.10,185.48H275.80M47.22,540.40V537.70M47.22,361.50V364.20M50.43,540.40V537.70M50.43,361.50V364.20M53.30,540.40V535.20M53.30,361.50V366.70M72.17,540.40V537.70M72.17,361.50V364.20M83.22,540.40V537.70M83.22,361.50V364.20M91.05,540.40V537.70M91.05,361.50V364.20M97.13,540.40V537.70M97.13,361.50V364.20M102.09,540.40V537.70M102.09,361.50V364.20M106.29,540.40V537.70M106.29,361.50V364.20M109.92,540.40V537.70M109.92,361.50V364.20M113.13,540.40V537.70M113.13,361.50V364.20M116.00,540.40V535.20M116.00,361.50V366.70M134.87,540.40V537.70M134.87,361.50V364.20M145.92,540.40V537.70M145.92,361.50V364.20M153.75,540.40V537.70M153.75,361.50V364.20M159.83,540.40V537.70M159.83,361.50V364.20M164.79,540.40V537.70M164.79,361.50V364.20M168.99,540.40V537.70M168.99,361.50V364.20M172.62,540.40V537.70M172.62,361.50V364.20M175.83,540.40V537.70M175.83,361.50V364.20M178.70,540.40V535.20M178.70,361.50V366.70M197.57,540.40V537.70M197.57,361.50V364.20M208.62,540.40V537.70M208.62,361.50V364.20M216.45,540.40V537.70M216.45,361.50V364.20M222.53,540.40V537.70M222.53,361.50V364.20M227.49,540.40V537.70M227.49,361.50V364.20M231.69,540.40V537.70M231.69,361.50V364.20M235.32,540.40V537.70M235.32,361.50V364.20M238.53,540.40V537.70M238.53,361.50V364.20M241.40,540.40V535.20M241.40,361.50V366.70M260.27,540.40V537.70M260.27,361.50V364.20M271.32,540.40V537.70M271.32,361.50V364.20M279.15,540.40V537.70M279.15,361.50V364.20M47.20,535.21H50.50M279.10,535.21H275.80M47.20,530.80H50.50M279.10,530.80H275.80M47.20,527.19H50.50M279.10,527.19H275.80M47.20,524.15H50.50M279.10,524.15H275.80M47.20,521.51H50.50M279.10,521.51H275.80M47.20,519.18H50.50M279.10,519.18H275.80M47.20,517.10H53.80M279.10,517.10H272.50M47.20,503.40H50.50M279.10,503.40H275.80M47.20,495.39H50.50M279.10,495.39H275.80M47.20,489.71H50.50M279.10,489.71H275.80M47.20,485.30H50.50M279.10,485.30H275.80M47.20,481.69H50.50M279.10,481.69H275.80M47.20,478.65H50.50M279.10,478.65H275.80M47.20,476.01H50.50M279.10,476.01H275.80M47.20,473.68H50.50M279.10,473.68H275.80M47.20,471.60H53.80M279.10,471.60H272.50M47.20,457.90H50.50M279.10,457.90H275.80M47.20,449.89H50.50M279.10,449.89H275.80M47.20,444.21H50.50M279.10,444.21H275.80M47.20,439.80H50.50M279.10,439.80H275.80M47.20,436.19H50.50M279.10,436.19H275.80M47.20,433.15H50.50M279.10,433.15H275.80M47.20,430.51H50.50M279.10,430.51H275.80M47.20,428.18H50.50M279.10,428.18H275.80M47.20,426.10H53.80M279.10,426.10H272.50M47.20,412.40H50.50M279.10,412.40H275.80M47.20,404.39H50.50M279.10,404.39H275.80M47.20,398.71H50.50M279.10,398.71H275.80M47.20,394.30H50.50M279.10,394.30H275.80M47.20,390.69H50.50M279.10,390.69H275.80M47.20,387.65H50.50M279.10,387.65H275.80M47.20,385.01H50.50M279.10,385.01H275.80M47.20,382.68H50.50M279.10,382.68H275.80M47.20,380.60H53.80M279.10,380.60H272.50M47.20,366.90H50.50M279.10,366.90H275.80M47.22,722.40V719.70M47.22,540.40V543.10M50.43,722.40V719.70M50.43,540.40V543.10M53.30,722.40V717.20M53.30,540.40V545.60M72.17,722.40V719.70M72.17,540.40V543.10M83.22,722.40V719.70M83.22,540.40V543.10M91.05,722.40V719.70M91.05,540.40V543.10M97.13,722.40V719.70M97.13,540.40V543.10M102.09,722.40V719.70M102.09,540.40V543.10M106.29,722.40V719.70M106.29,540.40V543.10M109.92,722.40V719.70M109.92,540.40V543.10M113.13,722.40V719.70M113.13,540.40V543.10M116.00,722.40V717.20M116.00,540.40V545.60M134.87,722.40V719.70M134.87,540.40V543.10M145.92,722.40V719.70M145.92,540.40V543.10M153.75,722.40V719.70M153.75,540.40V543.10M159.83,722.40V719.70M159.83,540.40V543.10M164.79,722.40V719.70M164.79,540.40V543.10M168.99,722.40V719.70M168.99,540.40V543.10M172.62,722.40V719.70M172.62,540.40V543.10M175.83,722.40V719.70M175.83,540.40V543.10M178.70,722.40V717.20M178.70,540.40V545.60M197.57,722.40V719.70M197.57,540.40V543.10M208.62,722.40V719.70M208.62,540.40V543.10M216.45,722.40V719.70M216.45,540.40V543.10M222.53,722.40V719.70M222.53,540.40V543.10M227.49,722.40V719.70M227.49,540.40V543.10M231.69,722.40V719.70M231.69,540.40V543.10M235.32,722.40V719.70M235.32,540.40V543.10M238.53,722.40V719.70M238.53,540.40V543.10M241.40,722.40V717.20M241.40,540.40V545.60M260.27,722.40V719.70M260.27,540.40V543.10M271.32,722.40V719.70M271.32,540.40V543.10M279.15,722.40V719.70M279.15,540.40V543.10M47.20,717.22H50.50M279.10,717.22H275.80M47.20,712.74H50.50M279.10,712.74H275.80M47.20,709.07H50.50M279.10,709.07H275.80M47.20,705.97H50.50M279.10,705.97H275.80M47.20,703.29H50.50M279.10,703.29H275.80M47.20,700.92H50.50M279.10,700.92H275.80M47.20,698.80H53.80M279.10,698.80H272.50M47.20,684.86H50.50M279.10,684.86H275.80M47.20,676.71H50.50M279.10,676.71H275.80M47.20,670.92H50.50M279.10,670.92H275.80M47.20,666.44H50.50M279.10,666.44H275.80M47.20,662.77H50.50M279.10,662.77H275.80M47.20,659.67H50.50M279.10,659.67H275.80M47.20,656.99H50.50M279.10,656.99H275.80M47.20,654.62H50.50M279.10,654.62H275.80M47.20,652.50H53.80M279.10,652.50H272.50M47.20,638.56H50.50M279.10,638.56H275.80M47.20,630.41H50.50M279.10,630.41H275.80M47.20,624.62H50.50M279.10,624.62H275.80M47.20,620.14H50.50M279.10,620.14H275.80M47.20,616.47H50.50M279.10,616.47H275.80M47.20,613.37H50.50M279.10,613.37H275.80M47.20,610.69H50.50M279.10,610.69H275.80M47.20,608.32H50.50M279.10,608.32H275.80M47.20,606.20H53.80M279.10,606.20H272.50M47.20,592.26H50.50M279.10,592.26H275.80M47.20,584.11H50.50M279.10,584.11H275.80M47.20,578.32H50.50M279.10,578.32H275.80M47.20,573.84H50.50M279.10,573.84H275.80M47.20,570.17H50.50M279.10,570.17H275.80M47.20,567.07H50.50M279.10,567.07H275.80M47.20,564.39H50.50M279.10,564.39H275.80M47.20,562.02H50.50M279.10,562.02H275.80M47.20,559.90H53.80M279.10,559.90H272.50M47.20,545.96H50.50M279.10,545.96H275.80M47.22,900.30V897.60M47.22,722.40V725.10M50.43,900.30V897.60M50.43,722.40V725.10M53.30,900.30V895.10M53.30,722.40V727.60M72.17,900.30V897.60M72.17,722.40V725.10M83.22,900.30V897.60M83.22,722.40V725.10M91.05,900.30V897.60M91.05,722.40V725.10M97.13,900.30V897.60M97.13,722.40V725.10M102.09,900.30V897.60M102.09,722.40V725.10M106.29,900.30V897.60M106.29,722.40V725.10M109.92,900.30V897.60M109.92,722.40V725.10M113.13,900.30V897.60M113.13,722.40V725.10M116.00,900.30V895.10M116.00,722.40V727.60M134.87,900.30V897.60M134.87,722.40V725.10M145.92,900.30V897.60M145.92,722.40V725.10M153.75,900.30V897.60M153.75,722.40V725.10M159.83,900.30V897.60M159.83,722.40V725.10M164.79,900.30V897.60M164.79,722.40V725.10M168.99,900.30V897.60M168.99,722.40V725.10M172.62,900.30V897.60M172.62,722.40V725.10M175.83,900.30V897.60M175.83,722.40V725.10M178.70,900.30V895.10M178.70,722.40V727.60M197.57,900.30V897.60M197.57,722.40V725.10M208.62,900.30V897.60M208.62,722.40V725.10M216.45,900.30V897.60M216.45,722.40V725.10M222.53,900.30V897.60M222.53,722.40V725.10M227.49,900.30V897.60M227.49,722.40V725.10M231.69,900.30V897.60M231.69,722.40V725.10M235.32,900.30V897.60M235.32,722.40V725.10M238.53,900.30V897.60M238.53,722.40V725.10M241.40,900.30V895.10M241.40,722.40V727.60M260.27,900.30V897.60M260.27,722.40V725.10M271.32,900.30V897.60M271.32,722.40V725.10M279.15,900.30V897.60M279.15,722.40V725.10M47.20,895.03H50.50M279.10,895.03H275.80M47.20,890.64H50.50M279.10,890.64H275.80M47.20,887.05H50.50M279.10,887.05H275.80M47.20,884.02H50.50M279.10,884.02H275.80M47.20,881.39H50.50M279.10,881.39H275.80M47.20,879.07H50.50M279.10,879.07H275.80M47.20,877.00H53.80M279.10,877.00H272.50M47.20,863.36H50.50M279.10,863.36H275.80M47.20,855.39H50.50M279.10,855.39H275.80M47.20,849.73H50.50M279.10,849.73H275.80M47.20,845.34H50.50M279.10,845.34H275.80M47.20,841.75H50.50M279.10,841.75H275.80M47.20,838.72H50.50M279.10,838.72H275.80M47.20,836.09H50.50M279.10,836.09H275.80M47.20,833.77H50.50M279.10,833.77H275.80M47.20,831.70H53.80M279.10,831.70H272.50M47.20,818.06H50.50M279.10,818.06H275.80M47.20,810.09H50.50M279.10,810.09H275.80M47.20,804.43H50.50M279.10,804.43H275.80M47.20,800.04H50.50M279.10,800.04H275.80M47.20,796.45H50.50M279.10,796.45H275.80M47.20,793.42H50.50M279.10,793.42H275.80M47.20,790.79H50.50M279.10,790.79H275.80M47.20,788.47H50.50M279.10,788.47H275.80M47.20,786.40H53.80M279.10,786.40H272.50M47.20,772.76H50.50M279.10,772.76H275.80M47.20,764.79H50.50M279.10,764.79H275.80M47.20,759.13H50.50M279.10,759.13H275.80M47.20,754.74H50.50M279.10,754.74H275.80M47.20,751.15H50.50M279.10,751.15H275.80M47.20,748.12H50.50M279.10,748.12H275.80M47.20,745.49H50.50M279.10,745.49H275.80M47.20,743.17H50.50M279.10,743.17H275.80M47.20,741.10H53.80M279.10,741.10H272.50M47.20,727.46H50.50M279.10,727.46H275.80M279.52,179.60V176.90M279.52,2.30V5.00M282.63,179.60V176.90M282.63,2.30V5.00M285.40,179.60V174.40M285.40,2.30V7.50M303.65,179.60V176.90M303.65,2.30V5.00M314.33,179.60V176.90M314.33,2.30V5.00M321.90,179.60V176.90M321.90,2.30V5.00M327.78,179.60V176.90M327.78,2.30V5.00M332.58,179.60V176.90M332.58,2.30V5.00M336.64,179.60V176.90M336.64,2.30V5.00M340.15,179.60V176.90M340.15,2.30V5.00M343.26,179.60V176.90M343.26,2.30V5.00M346.03,179.60V174.40M346.03,2.30V7.50M364.28,179.60V176.90M364.28,2.30V5.00M374.96,179.60V176.90M374.96,2.30V5.00M382.53,179.60V176.90M382.53,2.30V5.00M388.41,179.60V176.90M388.41,2.30V5.00M393.21,179.60V176.90M393.21,2.30V5.00M397.27,179.60V176.90M397.27,2.30V5.00M400.78,179.60V176.90M400.78,2.30V5.00M403.89,179.60V176.90M403.89,2.30V5.00M406.66,179.60V174.40M406.66,2.30V7.50M424.91,179.60V176.90M424.91,2.30V5.00M435.59,179.60V176.90M435.59,2.30V5.00M443.16,179.60V176.90M443.16,2.30V5.00M449.04,179.60V176.90M449.04,2.30V5.00M453.84,179.60V176.90M453.84,2.30V5.00M457.90,179.60V176.90M457.90,2.30V5.00M461.41,179.60V176.90M461.41,2.30V5.00M464.52,179.60V176.90M464.52,2.30V5.00M467.29,179.60V174.40M467.29,2.30V7.50M485.54,179.60V176.90M485.54,2.30V5.00M496.22,179.60V176.90M496.22,2.30V5.00M503.79,179.60V176.90M503.79,2.30V5.00M279.30,174.15H282.60M503.80,174.15H500.50M279.30,169.78H282.60M503.80,169.78H500.50M279.30,166.21H282.60M503.80,166.21H500.50M279.30,163.19H282.60M503.80,163.19H500.50M279.30,160.58H282.60M503.80,160.58H500.50M279.30,158.27H282.60M503.80,158.27H500.50M279.30,156.21H285.90M503.80,156.21H497.20M279.30,142.64H282.60M503.80,142.64H500.50M279.30,134.71H282.60M503.80,134.71H500.50M279.30,129.08H282.60M503.80,129.08H500.50M279.30,124.71H282.60M503.80,124.71H500.50M279.30,121.14H282.60M503.80,121.14H500.50M279.30,118.12H282.60M503.80,118.12H500.50M279.30,115.51H282.60M503.80,115.51H500.50M279.30,113.20H282.60M503.80,113.20H500.50M279.30,111.14H285.90M503.80,111.14H497.20M279.30,97.57H282.60M503.80,97.57H500.50M279.30,89.64H282.60M503.80,89.64H500.50M279.30,84.01H282.60M503.80,84.01H500.50M279.30,79.64H282.60M503.80,79.64H500.50M279.30,76.07H282.60M503.80,76.07H500.50M279.30,73.05H282.60M503.80,73.05H500.50M279.30,70.44H282.60M503.80,70.44H500.50M279.30,68.13H282.60M503.80,68.13H500.50M279.30,66.07H285.90M503.80,66.07H497.20M279.30,52.50H282.60M503.80,52.50H500.50M279.30,44.57H282.60M503.80,44.57H500.50M279.30,38.94H282.60M503.80,38.94H500.50M279.30,34.57H282.60M503.80,34.57H500.50M279.30,31.00H282.60M503.80,31.00H500.50M279.30,27.98H282.60M503.80,27.98H500.50M279.30,25.37H282.60M503.80,25.37H500.50M279.30,23.06H282.60M503.80,23.06H500.50M279.30,21.00H285.90M503.80,21.00H497.20M279.30,7.43H282.60M503.80,7.43H500.50M279.52,361.50V358.80M279.52,179.60V182.30M282.63,361.50V358.80M282.63,179.60V182.30M285.40,361.50V356.30M285.40,179.60V184.80M303.65,361.50V358.80M303.65,179.60V182.30M314.33,361.50V358.80M314.33,179.60V182.30M321.90,361.50V358.80M321.90,179.60V182.30M327.78,361.50V358.80M327.78,179.60V182.30M332.58,361.50V358.80M332.58,179.60V182.30M336.64,361.50V358.80M336.64,179.60V182.30M340.15,361.50V358.80M340.15,179.60V182.30M343.26,361.50V358.80M343.26,179.60V182.30M346.03,361.50V356.30M346.03,179.60V184.80M364.28,361.50V358.80M364.28,179.60V182.30M374.96,361.50V358.80M374.96,179.60V182.30M382.53,361.50V358.80M382.53,179.60V182.30M388.41,361.50V358.80M388.41,179.60V182.30M393.21,361.50V358.80M393.21,179.60V182.30M397.27,361.50V358.80M397.27,179.60V182.30M400.78,361.50V358.80M400.78,179.60V182.30M403.89,361.50V358.80M403.89,179.60V182.30M406.66,361.50V356.30M406.66,179.60V184.80M424.91,361.50V358.80M424.91,179.60V182.30M435.59,361.50V358.80M435.59,179.60V182.30M443.16,361.50V358.80M443.16,179.60V182.30M449.04,361.50V358.80M449.04,179.60V182.30M453.84,361.50V358.80M453.84,179.60V182.30M457.90,361.50V358.80M457.90,179.60V182.30M461.41,361.50V358.80M461.41,179.60V182.30M464.52,361.50V358.80M464.52,179.60V182.30M467.29,361.50V356.30M467.29,179.60V184.80M485.54,361.50V358.80M485.54,179.60V182.30M496.22,361.50V358.80M496.22,179.60V182.30M503.79,361.50V358.80M503.79,179.60V182.30M279.30,356.49H282.60M503.80,356.49H500.50M279.30,352.01H282.60M503.80,352.01H500.50M279.30,348.35H282.60M503.80,348.35H500.50M279.30,345.25H282.60M503.80,345.25H500.50M279.30,342.57H282.60M503.80,342.57H500.50M279.30,340.21H282.60M503.80,340.21H500.50M279.30,338.09H285.90M503.80,338.09H497.20M279.30,324.17H282.60M503.80,324.17H500.50M279.30,316.03H282.60M503.80,316.03H500.50M279.30,310.26H282.60M503.80,310.26H500.50M279.30,305.78H282.60M503.80,305.78H500.50M279.30,302.12H282.60M503.80,302.12H500.50M279.30,299.02H282.60M503.80,299.02H500.50M279.30,296.34H282.60M503.80,296.34H500.50M279.30,293.98H282.60M503.80,293.98H500.50M279.30,291.86H285.90M503.80,291.86H497.20M279.30,277.94H282.60M503.80,277.94H500.50M279.30,269.80H282.60M503.80,269.80H500.50M279.30,264.03H282.60M503.80,264.03H500.50M279.30,259.55H282.60M503.80,259.55H500.50M279.30,255.89H282.60M503.80,255.89H500.50M279.30,252.79H282.60M503.80,252.79H500.50M279.30,250.11H282.60M503.80,250.11H500.50M279.30,247.75H282.60M503.80,247.75H500.50M279.30,245.63H285.90M503.80,245.63H497.20M279.30,231.71H282.60M503.80,231.71H500.50M279.30,223.57H282.60M503.80,223.57H500.50M279.30,217.80H282.60M503.80,217.80H500.50M279.30,213.32H282.60M503.80,213.32H500.50M279.30,209.66H282.60M503.80,209.66H500.50M279.30,206.56H282.60M503.80,206.56H500.50M279.30,203.88H282.60M503.80,203.88H500.50M279.30,201.52H282.60M503.80,201.52H500.50M279.30,199.40H285.90M503.80,199.40H497.20M279.30,185.48H282.60M503.80,185.48H500.50M279.52,540.40V537.70M279.52,361.50V364.20M282.63,540.40V537.70M282.63,361.50V364.20M285.40,540.40V535.20M285.40,361.50V366.70M303.65,540.40V537.70M303.65,361.50V364.20M314.33,540.40V537.70M314.33,361.50V364.20M321.90,540.40V537.70M321.90,361.50V364.20M327.78,540.40V537.70M327.78,361.50V364.20M332.58,540.40V537.70M332.58,361.50V364.20M336.64,540.40V537.70M336.64,361.50V364.20M340.15,540.40V537.70M340.15,361.50V364.20M343.26,540.40V537.70M343.26,361.50V364.20M346.03,540.40V535.20M346.03,361.50V366.70M364.28,540.40V537.70M364.28,361.50V364.20M374.96,540.40V537.70M374.96,361.50V364.20M382.53,540.40V537.70M382.53,361.50V364.20M388.41,540.40V537.70M388.41,361.50V364.20M393.21,540.40V537.70M393.21,361.50V364.20M397.27,540.40V537.70M397.27,361.50V364.20M400.78,540.40V537.70M400.78,361.50V364.20M403.89,540.40V537.70M403.89,361.50V364.20M406.66,540.40V535.20M406.66,361.50V366.70M424.91,540.40V537.70M424.91,361.50V364.20M435.59,540.40V537.70M435.59,361.50V364.20M443.16,540.40V537.70M443.16,361.50V364.20M449.04,540.40V537.70M449.04,361.50V364.20M453.84,540.40V537.70M453.84,361.50V364.20M457.90,540.40V537.70M457.90,361.50V364.20M461.41,540.40V537.70M461.41,361.50V364.20M464.52,540.40V537.70M464.52,361.50V364.20M467.29,540.40V535.20M467.29,361.50V366.70M485.54,540.40V537.70M485.54,361.50V364.20M496.22,540.40V537.70M496.22,361.50V364.20M503.79,540.40V537.70M503.79,361.50V364.20M279.30,535.21H282.60M503.80,535.21H500.50M279.30,530.80H282.60M503.80,530.80H500.50M279.30,527.19H282.60M503.80,527.19H500.50M279.30,524.15H282.60M503.80,524.15H500.50M279.30,521.51H282.60M503.80,521.51H500.50M279.30,519.18H282.60M503.80,519.18H500.50M279.30,517.10H285.90M503.80,517.10H497.20M279.30,503.40H282.60M503.80,503.40H500.50M279.30,495.39H282.60M503.80,495.39H500.50M279.30,489.71H282.60M503.80,489.71H500.50M279.30,485.30H282.60M503.80,485.30H500.50M279.30,481.69H282.60M503.80,481.69H500.50M279.30,478.65H282.60M503.80,478.65H500.50M279.30,476.01H282.60M503.80,476.01H500.50M279.30,473.68H282.60M503.80,473.68H500.50M279.30,471.60H285.90M503.80,471.60H497.20M279.30,457.90H282.60M503.80,457.90H500.50M279.30,449.89H282.60M503.80,449.89H500.50M279.30,444.21H282.60M503.80,444.21H500.50M279.30,439.80H282.60M503.80,439.80H500.50M279.30,436.19H282.60M503.80,436.19H500.50M279.30,433.15H282.60M503.80,433.15H500.50M279.30,430.51H282.60M503.80,430.51H500.50M279.30,428.18H282.60M503.80,428.18H500.50M279.30,426.10H285.90M503.80,426.10H497.20M279.30,412.40H282.60M503.80,412.40H500.50M279.30,404.39H282.60M503.80,404.39H500.50M279.30,398.71H282.60M503.80,398.71H500.50M279.30,394.30H282.60M503.80,394.30H500.50M279.30,390.69H282.60M503.80,390.69H500.50M279.30,387.65H282.60M503.80,387.65H500.50M279.30,385.01H282.60M503.80,385.01H500.50M279.30,382.68H282.60M503.80,382.68H500.50M279.30,380.60H285.90M503.80,380.60H497.20M279.30,366.90H282.60M503.80,366.90H500.50M279.52,722.40V719.70M279.52,540.40V543.10M282.63,722.40V719.70M282.63,540.40V543.10M285.40,722.40V717.20M285.40,540.40V545.60M303.65,722.40V719.70M303.65,540.40V543.10M314.33,722.40V719.70M314.33,540.40V543.10M321.90,722.40V719.70M321.90,540.40V543.10M327.78,722.40V719.70M327.78,540.40V543.10M332.58,722.40V719.70M332.58,540.40V543.10M336.64,722.40V719.70M336.64,540.40V543.10M340.15,722.40V719.70M340.15,540.40V543.10M343.26,722.40V719.70M343.26,540.40V543.10M346.03,722.40V717.20M346.03,540.40V545.60M364.28,722.40V719.70M364.28,540.40V543.10M374.96,722.40V719.70M374.96,540.40V543.10M382.53,722.40V719.70M382.53,540.40V543.10M388.41,722.40V719.70M388.41,540.40V543.10M393.21,722.40V719.70M393.21,540.40V543.10M397.27,722.40V719.70M397.27,540.40V543.10M400.78,722.40V719.70M400.78,540.40V543.10M403.89,722.40V719.70M403.89,540.40V543.10M406.66,722.40V717.20M406.66,540.40V545.60M424.91,722.40V719.70M424.91,540.40V543.10M435.59,722.40V719.70M435.59,540.40V543.10M443.16,722.40V719.70M443.16,540.40V543.10M449.04,722.40V719.70M449.04,540.40V543.10M453.84,722.40V719.70M453.84,540.40V543.10M457.90,722.40V719.70M457.90,540.40V543.10M461.41,722.40V719.70M461.41,540.40V543.10M464.52,722.40V719.70M464.52,540.40V543.10M467.29,722.40V717.20M467.29,540.40V545.60M485.54,722.40V719.70M485.54,540.40V543.10M496.22,722.40V719.70M496.22,540.40V543.10M503.79,722.40V719.70M503.79,540.40V543.10M279.30,717.22H282.60M503.80,717.22H500.50M279.30,712.74H282.60M503.80,712.74H500.50M279.30,709.07H282.60M503.80,709.07H500.50M279.30,705.97H282.60M503.80,705.97H500.50M279.30,703.29H282.60M503.80,703.29H500.50M279.30,700.92H282.60M503.80,700.92H500.50M279.30,698.80H285.90M503.80,698.80H497.20M279.30,684.86H282.60M503.80,684.86H500.50M279.30,676.71H282.60M503.80,676.71H500.50M279.30,670.92H282.60M503.80,670.92H500.50M279.30,666.44H282.60M503.80,666.44H500.50M279.30,662.77H282.60M503.80,662.77H500.50M279.30,659.67H282.60M503.80,659.67H500.50M279.30,656.99H282.60M503.80,656.99H500.50M279.30,654.62H282.60M503.80,654.62H500.50M279.30,652.50H285.90M503.80,652.50H497.20M279.30,638.56H282.60M503.80,638.56H500.50M279.30,630.41H282.60M503.80,630.41H500.50M279.30,624.62H282.60M503.80,624.62H500.50M279.30,620.14H282.60M503.80,620.14H500.50M279.30,616.47H282.60M503.80,616.47H500.50M279.30,613.37H282.60M503.80,613.37H500.50M279.30,610.69H282.60M503.80,610.69H500.50M279.30,608.32H282.60M503.80,608.32H500.50M279.30,606.20H285.90M503.80,606.20H497.20M279.30,592.26H282.60M503.80,592.26H500.50M279.30,584.11H282.60M503.80,584.11H500.50M279.30,578.32H282.60M503.80,578.32H500.50M279.30,573.84H282.60M503.80,573.84H500.50M279.30,570.17H282.60M503.80,570.17H500.50M279.30,567.07H282.60M503.80,567.07H500.50M279.30,564.39H282.60M503.80,564.39H500.50M279.30,562.02H282.60M503.80,562.02H500.50M279.30,559.90H285.90M503.80,559.90H497.20M279.30,545.96H282.60M503.80,545.96H500.50M279.52,900.30V897.60M279.52,722.40V725.10M282.63,900.30V897.60M282.63,722.40V725.10M285.40,900.30V895.10M285.40,722.40V727.60M303.65,900.30V897.60M303.65,722.40V725.10M314.33,900.30V897.60M314.33,722.40V725.10M321.90,900.30V897.60M321.90,722.40V725.10M327.78,900.30V897.60M327.78,722.40V725.10M332.58,900.30V897.60M332.58,722.40V725.10M336.64,900.30V897.60M336.64,722.40V725.10M340.15,900.30V897.60M340.15,722.40V725.10M343.26,900.30V897.60M343.26,722.40V725.10M346.03,900.30V895.10M346.03,722.40V727.60M364.28,900.30V897.60M364.28,722.40V725.10M374.96,900.30V897.60M374.96,722.40V725.10M382.53,900.30V897.60M382.53,722.40V725.10M388.41,900.30V897.60M388.41,722.40V725.10M393.21,900.30V897.60M393.21,722.40V725.10M397.27,900.30V897.60M397.27,722.40V725.10M400.78,900.30V897.60M400.78,722.40V725.10M403.89,900.30V897.60M403.89,722.40V725.10M406.66,900.30V895.10M406.66,722.40V727.60M424.91,900.30V897.60M424.91,722.40V725.10M435.59,900.30V897.60M435.59,722.40V725.10M443.16,900.30V897.60M443.16,722.40V725.10M449.04,900.30V897.60M449.04,722.40V725.10M453.84,900.30V897.60M453.84,722.40V725.10M457.90,900.30V897.60M457.90,722.40V725.10M461.41,900.30V897.60M461.41,722.40V725.10M464.52,900.30V897.60M464.52,722.40V725.10M467.29,900.30V895.10M467.29,722.40V727.60M485.54,900.30V897.60M485.54,722.40V725.10M496.22,900.30V897.60M496.22,722.40V725.10M503.79,900.30V897.60M503.79,722.40V725.10M279.30,895.03H282.60M503.80,895.03H500.50M279.30,890.64H282.60M503.80,890.64H500.50M279.30,887.05H282.60M503.80,887.05H500.50M279.30,884.02H282.60M503.80,884.02H500.50M279.30,881.39H282.60M503.80,881.39H500.50M279.30,879.07H282.60M503.80,879.07H500.50M279.30,877.00H285.90M503.80,877.00H497.20M279.30,863.36H282.60M503.80,863.36H500.50M279.30,855.39H282.60M503.80,855.39H500.50M279.30,849.73H282.60M503.80,849.73H500.50M279.30,845.34H282.60M503.80,845.34H500.50M279.30,841.75H282.60M503.80,841.75H500.50M279.30,838.72H282.60M503.80,838.72H500.50M279.30,836.09H282.60M503.80,836.09H500.50M279.30,833.77H282.60M503.80,833.77H500.50M279.30,831.70H285.90M503.80,831.70H497.20M279.30,818.06H282.60M503.80,818.06H500.50M279.30,810.09H282.60M503.80,810.09H500.50M279.30,804.43H282.60M503.80,804.43H500.50M279.30,800.04H282.60M503.80,800.04H500.50M279.30,796.45H282.60M503.80,796.45H500.50M279.30,793.42H282.60M503.80,793.42H500.50M279.30,790.79H282.60M503.80,790.79H500.50M279.30,788.47H282.60M503.80,788.47H500.50M279.30,786.40H285.90M503.80,786.40H497.20M279.30,772.76H282.60M503.80,772.76H500.50M279.30,764.79H282.60M503.80,764.79H500.50M279.30,759.13H282.60M503.80,759.13H500.50M279.30,754.74H282.60M503.80,754.74H500.50M279.30,751.15H282.60M503.80,751.15H500.50M279.30,748.12H282.60M503.80,748.12H500.50M279.30,745.49H282.60M503.80,745.49H500.50M279.30,743.17H282.60M503.80,743.17H500.50M279.30,741.10H285.90M503.80,741.10H497.20M279.30,727.46H282.60M503.80,727.46H500.50M504.01,179.60V176.90M504.01,2.30V5.00M507.12,179.60V176.90M507.12,2.30V5.00M509.90,179.60V174.40M509.90,2.30V7.50M528.19,179.60V176.90M528.19,2.30V5.00M538.89,179.60V176.90M538.89,2.30V5.00M546.48,179.60V176.90M546.48,2.30V5.00M552.36,179.60V176.90M552.36,2.30V5.00M557.17,179.60V176.90M557.17,2.30V5.00M561.24,179.60V176.90M561.24,2.30V5.00M564.76,179.60V176.90M564.76,2.30V5.00M567.87,179.60V176.90M567.87,2.30V5.00M570.65,179.60V174.40M570.65,2.30V7.50M588.94,179.60V176.90M588.94,2.30V5.00M599.64,179.60V176.90M599.64,2.30V5.00M607.23,179.60V176.90M607.23,2.30V5.00M613.11,179.60V176.90M613.11,2.30V5.00M617.92,179.60V176.90M617.92,2.30V5.00M621.99,179.60V176.90M621.99,2.30V5.00M625.51,179.60V176.90M625.51,2.30V5.00M628.62,179.60V176.90M628.62,2.30V5.00M631.40,179.60V174.40M631.40,2.30V7.50M649.69,179.60V176.90M649.69,2.30V5.00M660.39,179.60V176.90M660.39,2.30V5.00M667.98,179.60V176.90M667.98,2.30V5.00M673.86,179.60V176.90M673.86,2.30V5.00M678.67,179.60V176.90M678.67,2.30V5.00M682.74,179.60V176.90M682.74,2.30V5.00M686.26,179.60V176.90M686.26,2.30V5.00M689.37,179.60V176.90M689.37,2.30V5.00M692.15,179.60V174.40M692.15,2.30V7.50M710.44,179.60V176.90M710.44,2.30V5.00M721.14,179.60V176.90M721.14,2.30V5.00M728.73,179.60V176.90M728.73,2.30V5.00M504.00,174.15H507.30M728.70,174.15H725.40M504.00,169.78H507.30M728.70,169.78H725.40M504.00,166.21H507.30M728.70,166.21H725.40M504.00,163.19H507.30M728.70,163.19H725.40M504.00,160.58H507.30M728.70,160.58H725.40M504.00,158.27H507.30M728.70,158.27H725.40M504.00,156.21H510.60M728.70,156.21H722.10M504.00,142.64H507.30M728.70,142.64H725.40M504.00,134.71H507.30M728.70,134.71H725.40M504.00,129.08H507.30M728.70,129.08H725.40M504.00,124.71H507.30M728.70,124.71H725.40M504.00,121.14H507.30M728.70,121.14H725.40M504.00,118.12H507.30M728.70,118.12H725.40M504.00,115.51H507.30M728.70,115.51H725.40M504.00,113.20H507.30M728.70,113.20H725.40M504.00,111.14H510.60M728.70,111.14H722.10M504.00,97.57H507.30M728.70,97.57H725.40M504.00,89.64H507.30M728.70,89.64H725.40M504.00,84.01H507.30M728.70,84.01H725.40M504.00,79.64H507.30M728.70,79.64H725.40M504.00,76.07H507.30M728.70,76.07H725.40M504.00,73.05H507.30M728.70,73.05H725.40M504.00,70.44H507.30M728.70,70.44H725.40M504.00,68.13H507.30M728.70,68.13H725.40M504.00,66.07H510.60M728.70,66.07H722.10M504.00,52.50H507.30M728.70,52.50H725.40M504.00,44.57H507.30M728.70,44.57H725.40M504.00,38.94H507.30M728.70,38.94H725.40M504.00,34.57H507.30M728.70,34.57H725.40M504.00,31.00H507.30M728.70,31.00H725.40M504.00,27.98H507.30M728.70,27.98H725.40M504.00,25.37H507.30M728.70,25.37H725.40M504.00,23.06H507.30M728.70,23.06H725.40M504.00,21.00H510.60M728.70,21.00H722.10M504.00,7.43H507.30M728.70,7.43H725.40M504.01,361.50V358.80M504.01,179.60V182.30M507.12,361.50V358.80M507.12,179.60V182.30M509.90,361.50V356.30M509.90,179.60V184.80M528.19,361.50V358.80M528.19,179.60V182.30M538.89,361.50V358.80M538.89,179.60V182.30M546.48,361.50V358.80M546.48,179.60V182.30M552.36,361.50V358.80M552.36,179.60V182.30M557.17,361.50V358.80M557.17,179.60V182.30M561.24,361.50V358.80M561.24,179.60V182.30M564.76,361.50V358.80M564.76,179.60V182.30M567.87,361.50V358.80M567.87,179.60V182.30M570.65,361.50V356.30M570.65,179.60V184.80M588.94,361.50V358.80M588.94,179.60V182.30M599.64,361.50V358.80M599.64,179.60V182.30M607.23,361.50V358.80M607.23,179.60V182.30M613.11,361.50V358.80M613.11,179.60V182.30M617.92,361.50V358.80M617.92,179.60V182.30M621.99,361.50V358.80M621.99,179.60V182.30M625.51,361.50V358.80M625.51,179.60V182.30M628.62,361.50V358.80M628.62,179.60V182.30M631.40,361.50V356.30M631.40,179.60V184.80M649.69,361.50V358.80M649.69,179.60V182.30M660.39,361.50V358.80M660.39,179.60V182.30M667.98,361.50V358.80M667.98,179.60V182.30M673.86,361.50V358.80M673.86,179.60V182.30M678.67,361.50V358.80M678.67,179.60V182.30M682.74,361.50V358.80M682.74,179.60V182.30M686.26,361.50V358.80M686.26,179.60V182.30M689.37,361.50V358.80M689.37,179.60V182.30M692.15,361.50V356.30M692.15,179.60V184.80M710.44,361.50V358.80M710.44,179.60V182.30M721.14,361.50V358.80M721.14,179.60V182.30M728.73,361.50V358.80M728.73,179.60V182.30M504.00,356.49H507.30M728.70,356.49H725.40M504.00,352.01H507.30M728.70,352.01H725.40M504.00,348.35H507.30M728.70,348.35H725.40M504.00,345.25H507.30M728.70,345.25H725.40M504.00,342.57H507.30M728.70,342.57H725.40M504.00,340.21H507.30M728.70,340.21H725.40M504.00,338.09H510.60M728.70,338.09H722.10M504.00,324.17H507.30M728.70,324.17H725.40M504.00,316.03H507.30M728.70,316.03H725.40M504.00,310.26H507.30M728.70,310.26H725.40M504.00,305.78H507.30M728.70,305.78H725.40M504.00,302.12H507.30M728.70,302.12H725.40M504.00,299.02H507.30M728.70,299.02H725.40M504.00,296.34H507.30M728.70,296.34H725.40M504.00,293.98H507.30M728.70,293.98H725.40M504.00,291.86H510.60M728.70,291.86H722.10M504.00,277.94H507.30M728.70,277.94H725.40M504.00,269.80H507.30M728.70,269.80H725.40M504.00,264.03H507.30M728.70,264.03H725.40M504.00,259.55H507.30M728.70,259.55H725.40M504.00,255.89H507.30M728.70,255.89H725.40M504.00,252.79H507.30M728.70,252.79H725.40M504.00,250.11H507.30M728.70,250.11H725.40M504.00,247.75H507.30M728.70,247.75H725.40M504.00,245.63H510.60M728.70,245.63H722.10M504.00,231.71H507.30M728.70,231.71H725.40M504.00,223.57H507.30M728.70,223.57H725.40M504.00,217.80H507.30M728.70,217.80H725.40M504.00,213.32H507.30M728.70,213.32H725.40M504.00,209.66H507.30M728.70,209.66H725.40M504.00,206.56H507.30M728.70,206.56H725.40M504.00,203.88H507.30M728.70,203.88H725.40M504.00,201.52H507.30M728.70,201.52H725.40M504.00,199.40H510.60M728.70,199.40H722.10M504.00,185.48H507.30M728.70,185.48H725.40M504.01,540.40V537.70M504.01,361.50V364.20M507.12,540.40V537.70M507.12,361.50V364.20M509.90,540.40V535.20M509.90,361.50V366.70M528.19,540.40V537.70M528.19,361.50V364.20M538.89,540.40V537.70M538.89,361.50V364.20M546.48,540.40V537.70M546.48,361.50V364.20M552.36,540.40V537.70M552.36,361.50V364.20M557.17,540.40V537.70M557.17,361.50V364.20M561.24,540.40V537.70M561.24,361.50V364.20M564.76,540.40V537.70M564.76,361.50V364.20M567.87,540.40V537.70M567.87,361.50V364.20M570.65,540.40V535.20M570.65,361.50V366.70M588.94,540.40V537.70M588.94,361.50V364.20M599.64,540.40V537.70M599.64,361.50V364.20M607.23,540.40V537.70M607.23,361.50V364.20M613.11,540.40V537.70M613.11,361.50V364.20M617.92,540.40V537.70M617.92,361.50V364.20M621.99,540.40V537.70M621.99,361.50V364.20M625.51,540.40V537.70M625.51,361.50V364.20M628.62,540.40V537.70M628.62,361.50V364.20M631.40,540.40V535.20M631.40,361.50V366.70M649.69,540.40V537.70M649.69,361.50V364.20M660.39,540.40V537.70M660.39,361.50V364.20M667.98,540.40V537.70M667.98,361.50V364.20M673.86,540.40V537.70M673.86,361.50V364.20M678.67,540.40V537.70M678.67,361.50V364.20M682.74,540.40V537.70M682.74,361.50V364.20M686.26,540.40V537.70M686.26,361.50V364.20M689.37,540.40V537.70M689.37,361.50V364.20M692.15,540.40V535.20M692.15,361.50V366.70M710.44,540.40V537.70M710.44,361.50V364.20M721.14,540.40V537.70M721.14,361.50V364.20M728.73,540.40V537.70M728.73,361.50V364.20M504.00,535.21H507.30M728.70,535.21H725.40M504.00,530.80H507.30M728.70,530.80H725.40M504.00,527.19H507.30M728.70,527.19H725.40M504.00,524.15H507.30M728.70,524.15H725.40M504.00,521.51H507.30M728.70,521.51H725.40M504.00,519.18H507.30M728.70,519.18H725.40M504.00,517.10H510.60M728.70,517.10H722.10M504.00,503.40H507.30M728.70,503.40H725.40M504.00,495.39H507.30M728.70,495.39H725.40M504.00,489.71H507.30M728.70,489.71H725.40M504.00,485.30H507.30M728.70,485.30H725.40M504.00,481.69H507.30M728.70,481.69H725.40M504.00,478.65H507.30M728.70,478.65H725.40M504.00,476.01H507.30M728.70,476.01H725.40M504.00,473.68H507.30M728.70,473.68H725.40M504.00,471.60H510.60M728.70,471.60H722.10M504.00,457.90H507.30M728.70,457.90H725.40M504.00,449.89H507.30M728.70,449.89H725.40M504.00,444.21H507.30M728.70,444.21H725.40M504.00,439.80H507.30M728.70,439.80H725.40M504.00,436.19H507.30M728.70,436.19H725.40M504.00,433.15H507.30M728.70,433.15H725.40M504.00,430.51H507.30M728.70,430.51H725.40M504.00,428.18H507.30M728.70,428.18H725.40M504.00,426.10H510.60M728.70,426.10H722.10M504.00,412.40H507.30M728.70,412.40H725.40M504.00,404.39H507.30M728.70,404.39H725.40M504.00,398.71H507.30M728.70,398.71H725.40M504.00,394.30H507.30M728.70,394.30H725.40M504.00,390.69H507.30M728.70,390.69H725.40M504.00,387.65H507.30M728.70,387.65H725.40M504.00,385.01H507.30M728.70,385.01H725.40M504.00,382.68H507.30M728.70,382.68H725.40M504.00,380.60H510.60M728.70,380.60H722.10M504.00,366.90H507.30M728.70,366.90H725.40M504.01,722.40V719.70M504.01,540.40V543.10M507.12,722.40V719.70M507.12,540.40V543.10M509.90,722.40V717.20M509.90,540.40V545.60M528.19,722.40V719.70M528.19,540.40V543.10M538.89,722.40V719.70M538.89,540.40V543.10M546.48,722.40V719.70M546.48,540.40V543.10M552.36,722.40V719.70M552.36,540.40V543.10M557.17,722.40V719.70M557.17,540.40V543.10M561.24,722.40V719.70M561.24,540.40V543.10M564.76,722.40V719.70M564.76,540.40V543.10M567.87,722.40V719.70M567.87,540.40V543.10M570.65,722.40V717.20M570.65,540.40V545.60M588.94,722.40V719.70M588.94,540.40V543.10M599.64,722.40V719.70M599.64,540.40V543.10M607.23,722.40V719.70M607.23,540.40V543.10M613.11,722.40V719.70M613.11,540.40V543.10M617.92,722.40V719.70M617.92,540.40V543.10M621.99,722.40V719.70M621.99,540.40V543.10M625.51,722.40V719.70M625.51,540.40V543.10M628.62,722.40V719.70M628.62,540.40V543.10M631.40,722.40V717.20M631.40,540.40V545.60M649.69,722.40V719.70M649.69,540.40V543.10M660.39,722.40V719.70M660.39,540.40V543.10M667.98,722.40V719.70M667.98,540.40V543.10M673.86,722.40V719.70M673.86,540.40V543.10M678.67,722.40V719.70M678.67,540.40V543.10M682.74,722.40V719.70M682.74,540.40V543.10M686.26,722.40V719.70M686.26,540.40V543.10M689.37,722.40V719.70M689.37,540.40V543.10M692.15,722.40V717.20M692.15,540.40V545.60M710.44,722.40V719.70M710.44,540.40V543.10M721.14,722.40V719.70M721.14,540.40V543.10M728.73,722.40V719.70M728.73,540.40V543.10M504.00,717.22H507.30M728.70,717.22H725.40M504.00,712.74H507.30M728.70,712.74H725.40M504.00,709.07H507.30M728.70,709.07H725.40M504.00,705.97H507.30M728.70,705.97H725.40M504.00,703.29H507.30M728.70,703.29H725.40M504.00,700.92H507.30M728.70,700.92H725.40M504.00,698.80H510.60M728.70,698.80H722.10M504.00,684.86H507.30M728.70,684.86H725.40M504.00,676.71H507.30M728.70,676.71H725.40M504.00,670.92H507.30M728.70,670.92H725.40M504.00,666.44H507.30M728.70,666.44H725.40M504.00,662.77H507.30M728.70,662.77H725.40M504.00,659.67H507.30M728.70,659.67H725.40M504.00,656.99H507.30M728.70,656.99H725.40M504.00,654.62H507.30M728.70,654.62H725.40M504.00,652.50H510.60M728.70,652.50H722.10M504.00,638.56H507.30M728.70,638.56H725.40M504.00,630.41H507.30M728.70,630.41H725.40M504.00,624.62H507.30M728.70,624.62H725.40M504.00,620.14H507.30M728.70,620.14H725.40M504.00,616.47H507.30M728.70,616.47H725.40M504.00,613.37H507.30M728.70,613.37H725.40M504.00,610.69H507.30M728.70,610.69H725.40M504.00,608.32H507.30M728.70,608.32H725.40M504.00,606.20H510.60M728.70,606.20H722.10M504.00,592.26H507.30M728.70,592.26H725.40M504.00,584.11H507.30M728.70,584.11H725.40M504.00,578.32H507.30M728.70,578.32H725.40M504.00,573.84H507.30M728.70,573.84H725.40M504.00,570.17H507.30M728.70,570.17H725.40M504.00,567.07H507.30M728.70,567.07H725.40M504.00,564.39H507.30M728.70,564.39H725.40M504.00,562.02H507.30M728.70,562.02H725.40M504.00,559.90H510.60M728.70,559.90H722.10M504.00,545.96H507.30M728.70,545.96H725.40M504.01,900.30V897.60M504.01,722.40V725.10M507.12,900.30V897.60M507.12,722.40V725.10M509.90,900.30V895.10M509.90,722.40V727.60M528.19,900.30V897.60M528.19,722.40V725.10M538.89,900.30V897.60M538.89,722.40V725.10M546.48,900.30V897.60M546.48,722.40V725.10M552.36,900.30V897.60M552.36,722.40V725.10M557.17,900.30V897.60M557.17,722.40V725.10M561.24,900.30V897.60M561.24,722.40V725.10M564.76,900.30V897.60M564.76,722.40V725.10M567.87,900.30V897.60M567.87,722.40V725.10M570.65,900.30V895.10M570.65,722.40V727.60M588.94,900.30V897.60M588.94,722.40V725.10M599.64,900.30V897.60M599.64,722.40V725.10M607.23,900.30V897.60M607.23,722.40V725.10M613.11,900.30V897.60M613.11,722.40V725.10M617.92,900.30V897.60M617.92,722.40V725.10M621.99,900.30V897.60M621.99,722.40V725.10M625.51,900.30V897.60M625.51,722.40V725.10M628.62,900.30V897.60M628.62,722.40V725.10M631.40,900.30V895.10M631.40,722.40V727.60M649.69,900.30V897.60M649.69,722.40V725.10M660.39,900.30V897.60M660.39,722.40V725.10M667.98,900.30V897.60M667.98,722.40V725.10M673.86,900.30V897.60M673.86,722.40V725.10M678.67,900.30V897.60M678.67,722.40V725.10M682.74,900.30V897.60M682.74,722.40V725.10M686.26,900.30V897.60M686.26,722.40V725.10M689.37,900.30V897.60M689.37,722.40V725.10M692.15,900.30V895.10M692.15,722.40V727.60M710.44,900.30V897.60M710.44,722.40V725.10M721.14,900.30V897.60M721.14,722.40V725.10M728.73,900.30V897.60M728.73,722.40V725.10M504.00,895.03H507.30M728.70,895.03H725.40M504.00,890.64H507.30M728.70,890.64H725.40M504.00,887.05H507.30M728.70,887.05H725.40M504.00,884.02H507.30M728.70,884.02H725.40M504.00,881.39H507.30M728.70,881.39H725.40M504.00,879.07H507.30M728.70,879.07H725.40M504.00,877.00H510.60M728.70,877.00H722.10M504.00,863.36H507.30M728.70,863.36H725.40M504.00,855.39H507.30M728.70,855.39H725.40M504.00,849.73H507.30M728.70,849.73H725.40M504.00,845.34H507.30M728.70,845.34H725.40M504.00,841.75H507.30M728.70,841.75H725.40M504.00,838.72H507.30M728.70,838.72H725.40M504.00,836.09H507.30M728.70,836.09H725.40M504.00,833.77H507.30M728.70,833.77H725.40M504.00,831.70H510.60M728.70,831.70H722.10M504.00,818.06H507.30M728.70,818.06H725.40M504.00,810.09H507.30M728.70,810.09H725.40M504.00,804.43H507.30M728.70,804.43H725.40M504.00,800.04H507.30M728.70,800.04H725.40M504.00,796.45H507.30M728.70,796.45H725.40M504.00,793.42H507.30M728.70,793.42H725.40M504.00,790.79H507.30M728.70,790.79H725.40M504.00,788.47H507.30M728.70,788.47H725.40M504.00,786.40H510.60M728.70,786.40H722.10M504.00,772.76H507.30M728.70,772.76H725.40M504.00,764.79H507.30M728.70,764.79H725.40M504.00,759.13H507.30M728.70,759.13H725.40M504.00,754.74H507.30M728.70,754.74H725.40M504.00,751.15H507.30M728.70,751.15H725.40M504.00,748.12H507.30M728.70,748.12H725.40M504.00,745.49H507.30M728.70,745.49H725.40M504.00,743.17H507.30M728.70,743.17H725.40M504.00,741.10H510.60M728.70,741.10H722.10M504.00,727.46H507.30M728.70,727.46H725.40" stroke="#1a1a1a" stroke-width="1" fill="none"/>
<path d="M47.20,2.30H279.10V179.60H47.20ZM47.20,179.60H279.10V361.50H47.20ZM47.20,361.50H279.10V540.40H47.20ZM47.20,540.40H279.10V722.40H47.20ZM47.20,722.40H279.10V900.30H47.20ZM279.30,2.30H503.80V179.60H279.30ZM279.30,179.60H503.80V361.50H279.30ZM279.30,361.50H503.80V540.40H279.30ZM279.30,540.40H503.80V722.40H279.30ZM279.30,722.40H503.80V900.30H279.30ZM504.00,2.30H728.70V179.60H504.00ZM504.00,179.60H728.70V361.50H504.00ZM504.00,361.50H728.70V540.40H504.00ZM504.00,540.40H728.70V722.40H504.00ZM504.00,722.40H728.70V900.30H504.00Z" stroke="#1a1a1a" stroke-width="1.3" fill="none"/>
<text x="53.7" y="14.3" font-size="8.8" font-weight="bold" fill="#000" stroke="#000" stroke-width="0.3" textLength="70.3" lengthAdjust="spacingAndGlyphs">T<tspan font-size="6" dy="1.9">0</tspan><tspan dy="-1.9">+3.5s to T</tspan><tspan font-size="6" dy="1.9">0</tspan><tspan dy="-1.9">+3.6s</tspan></text>
<path d="M145.8,12.1h26.3" stroke="#efbe2a" stroke-width="1.7"/>
<path d="M145.8,23.4h26.3" stroke="#000" stroke-width="1.8"/>
<text x="177.7" y="15.2" font-size="8.4" fill="#111" stroke="#111" stroke-width="0.22" textLength="79.2" lengthAdjust="spacingAndGlyphs">GRB090926A (Band)</text>
<text x="177.7" y="25.9" font-size="8.4" fill="#111" stroke="#111" stroke-width="0.22" textLength="92.9" lengthAdjust="spacingAndGlyphs">GRB090926A (C+BB+C)</text>
<text x="53.7" y="191.6" font-size="8.8" font-weight="bold" fill="#000" stroke="#000" stroke-width="0.3" textLength="70.3" lengthAdjust="spacingAndGlyphs">T<tspan font-size="6" dy="1.9">0</tspan><tspan dy="-1.9">+3.6s to T</tspan><tspan font-size="6" dy="1.9">0</tspan><tspan dy="-1.9">+3.7s</tspan></text>
<path d="M145.8,189.4h26.3" stroke="#efbe2a" stroke-width="1.7"/>
<path d="M145.8,200.7h26.3" stroke="#000" stroke-width="1.8"/>
<text x="177.7" y="192.5" font-size="8.4" fill="#111" stroke="#111" stroke-width="0.22" textLength="79.2" lengthAdjust="spacingAndGlyphs">GRB090926A (Band)</text>
<text x="177.7" y="203.2" font-size="8.4" fill="#111" stroke="#111" stroke-width="0.22" textLength="92.9" lengthAdjust="spacingAndGlyphs">GRB090926A (C+BB+C)</text>
<text x="53.7" y="373.5" font-size="8.8" font-weight="bold" fill="#000" stroke="#000" stroke-width="0.3" textLength="70.3" lengthAdjust="spacingAndGlyphs">T<tspan font-size="6" dy="1.9">0</tspan><tspan dy="-1.9">+3.7s to T</tspan><tspan font-size="6" dy="1.9">0</tspan><tspan dy="-1.9">+3.8s</tspan></text>
<path d="M145.8,371.3h26.3" stroke="#efbe2a" stroke-width="1.7"/>
<path d="M145.8,382.6h26.3" stroke="#000" stroke-width="1.8"/>
<text x="177.7" y="374.4" font-size="8.4" fill="#111" stroke="#111" stroke-width="0.22" textLength="79.2" lengthAdjust="spacingAndGlyphs">GRB090926A (Band)</text>
<text x="177.7" y="385.1" font-size="8.4" fill="#111" stroke="#111" stroke-width="0.22" textLength="92.9" lengthAdjust="spacingAndGlyphs">GRB090926A (C+BB+C)</text>
<text x="53.7" y="552.4" font-size="8.8" font-weight="bold" fill="#000" stroke="#000" stroke-width="0.3" textLength="70.3" lengthAdjust="spacingAndGlyphs">T<tspan font-size="6" dy="1.9">0</tspan><tspan dy="-1.9">+3.8s to T</tspan><tspan font-size="6" dy="1.9">0</tspan><tspan dy="-1.9">+3.9s</tspan></text>
<path d="M145.8,550.2h26.3" stroke="#efbe2a" stroke-width="1.7"/>
<path d="M145.8,561.5h26.3" stroke="#000" stroke-width="1.8"/>
<text x="177.7" y="553.3" font-size="8.4" fill="#111" stroke="#111" stroke-width="0.22" textLength="79.2" lengthAdjust="spacingAndGlyphs">GRB090926A (Band)</text>
<text x="177.7" y="564.0" font-size="8.4" fill="#111" stroke="#111" stroke-width="0.22" textLength="92.9" lengthAdjust="spacingAndGlyphs">GRB090926A (C+BB+C)</text>
<text x="53.7" y="734.4" font-size="8.8" font-weight="bold" fill="#000" stroke="#000" stroke-width="0.3" textLength="70.3" lengthAdjust="spacingAndGlyphs">T<tspan font-size="6" dy="1.9">0</tspan><tspan dy="-1.9">+3.9s to T</tspan><tspan font-size="6" dy="1.9">0</tspan><tspan dy="-1.9">+4.0s</tspan></text>
<path d="M145.8,732.2h26.3" stroke="#efbe2a" stroke-width="1.7"/>
<path d="M145.8,743.5h26.3" stroke="#000" stroke-width="1.8"/>
<text x="177.7" y="735.3" font-size="8.4" fill="#111" stroke="#111" stroke-width="0.22" textLength="79.2" lengthAdjust="spacingAndGlyphs">GRB090926A (Band)</text>
<text x="177.7" y="746.0" font-size="8.4" fill="#111" stroke="#111" stroke-width="0.22" textLength="92.9" lengthAdjust="spacingAndGlyphs">GRB090926A (C+BB+C)</text>
<text x="285.6" y="14.3" font-size="8.8" font-weight="bold" fill="#000" stroke="#000" stroke-width="0.3" textLength="68.0" lengthAdjust="spacingAndGlyphs">T<tspan font-size="6" dy="1.9">0</tspan><tspan dy="-1.9">+4.0s to T</tspan><tspan font-size="6" dy="1.9">0</tspan><tspan dy="-1.9">+4.1s</tspan></text>
<path d="M374.6,12.1h25.4" stroke="#efbe2a" stroke-width="1.7"/>
<path d="M374.6,23.4h25.4" stroke="#000" stroke-width="1.8"/>
<text x="405.5" y="15.2" font-size="8.4" fill="#111" stroke="#111" stroke-width="0.22" textLength="76.6" lengthAdjust="spacingAndGlyphs">GRB090926A (Band)</text>
<text x="405.5" y="25.9" font-size="8.4" fill="#111" stroke="#111" stroke-width="0.22" textLength="89.8" lengthAdjust="spacingAndGlyphs">GRB090926A (C+BB+C)</text>
<text x="285.6" y="191.6" font-size="8.8" font-weight="bold" fill="#000" stroke="#000" stroke-width="0.3" textLength="68.0" lengthAdjust="spacingAndGlyphs">T<tspan font-size="6" dy="1.9">0</tspan><tspan dy="-1.9">+4.1s to T</tspan><tspan font-size="6" dy="1.9">0</tspan><tspan dy="-1.9">+4.2s</tspan></text>
<path d="M374.6,189.4h25.4" stroke="#efbe2a" stroke-width="1.7"/>
<path d="M374.6,200.7h25.4" stroke="#000" stroke-width="1.8"/>
<text x="405.5" y="192.5" font-size="8.4" fill="#111" stroke="#111" stroke-width="0.22" textLength="76.6" lengthAdjust="spacingAndGlyphs">GRB090926A (Band)</text>
<text x="405.5" y="203.2" font-size="8.4" fill="#111" stroke="#111" stroke-width="0.22" textLength="89.8" lengthAdjust="spacingAndGlyphs">GRB090926A (C+BB+C)</text>
<text x="285.6" y="373.5" font-size="8.8" font-weight="bold" fill="#000" stroke="#000" stroke-width="0.3" textLength="68.0" lengthAdjust="spacingAndGlyphs">T<tspan font-size="6" dy="1.9">0</tspan><tspan dy="-1.9">+4.2s to T</tspan><tspan font-size="6" dy="1.9">0</tspan><tspan dy="-1.9">+4.3s</tspan></text>
<path d="M374.6,371.3h25.4" stroke="#efbe2a" stroke-width="1.7"/>
<path d="M374.6,382.6h25.4" stroke="#000" stroke-width="1.8"/>
<text x="405.5" y="374.4" font-size="8.4" fill="#111" stroke="#111" stroke-width="0.22" textLength="76.6" lengthAdjust="spacingAndGlyphs">GRB090926A (Band)</text>
<text x="405.5" y="385.1" font-size="8.4" fill="#111" stroke="#111" stroke-width="0.22" textLength="89.8" lengthAdjust="spacingAndGlyphs">GRB090926A (C+BB+C)</text>
<text x="285.6" y="552.4" font-size="8.8" font-weight="bold" fill="#000" stroke="#000" stroke-width="0.3" textLength="68.0" lengthAdjust="spacingAndGlyphs">T<tspan font-size="6" dy="1.9">0</tspan><tspan dy="-1.9">+4.3s to T</tspan><tspan font-size="6" dy="1.9">0</tspan><tspan dy="-1.9">+4.4s</tspan></text>
<path d="M374.6,550.2h25.4" stroke="#efbe2a" stroke-width="1.7"/>
<path d="M374.6,561.5h25.4" stroke="#000" stroke-width="1.8"/>
<text x="405.5" y="553.3" font-size="8.4" fill="#111" stroke="#111" stroke-width="0.22" textLength="76.6" lengthAdjust="spacingAndGlyphs">GRB090926A (Band)</text>
<text x="405.5" y="564.0" font-size="8.4" fill="#111" stroke="#111" stroke-width="0.22" textLength="89.8" lengthAdjust="spacingAndGlyphs">GRB090926A (C+BB+C)</text>
<text x="285.6" y="734.4" font-size="8.8" font-weight="bold" fill="#000" stroke="#000" stroke-width="0.3" textLength="68.0" lengthAdjust="spacingAndGlyphs">T<tspan font-size="6" dy="1.9">0</tspan><tspan dy="-1.9">+4.4s to T</tspan><tspan font-size="6" dy="1.9">0</tspan><tspan dy="-1.9">+4.5s</tspan></text>
<path d="M374.6,732.2h25.4" stroke="#efbe2a" stroke-width="1.7"/>
<path d="M374.6,743.5h25.4" stroke="#000" stroke-width="1.8"/>
<text x="405.5" y="735.3" font-size="8.4" fill="#111" stroke="#111" stroke-width="0.22" textLength="76.6" lengthAdjust="spacingAndGlyphs">GRB090926A (Band)</text>
<text x="405.5" y="746.0" font-size="8.4" fill="#111" stroke="#111" stroke-width="0.22" textLength="89.8" lengthAdjust="spacingAndGlyphs">GRB090926A (C+BB+C)</text>
<text x="510.3" y="14.3" font-size="8.8" font-weight="bold" fill="#000" stroke="#000" stroke-width="0.3" textLength="68.1" lengthAdjust="spacingAndGlyphs">T<tspan font-size="6" dy="1.9">0</tspan><tspan dy="-1.9">+4.5s to T</tspan><tspan font-size="6" dy="1.9">0</tspan><tspan dy="-1.9">+4.7s</tspan></text>
<path d="M599.5,12.1h25.5" stroke="#efbe2a" stroke-width="1.7"/>
<path d="M599.5,23.4h25.5" stroke="#000" stroke-width="1.8"/>
<text x="630.4" y="15.2" font-size="8.4" fill="#111" stroke="#111" stroke-width="0.22" textLength="76.8" lengthAdjust="spacingAndGlyphs">GRB090926A (Band)</text>
<text x="630.4" y="25.9" font-size="8.4" fill="#111" stroke="#111" stroke-width="0.22" textLength="90.0" lengthAdjust="spacingAndGlyphs">GRB090926A (C+BB+C)</text>
<text x="510.3" y="191.6" font-size="8.8" font-weight="bold" fill="#000" stroke="#000" stroke-width="0.3" textLength="68.1" lengthAdjust="spacingAndGlyphs">T<tspan font-size="6" dy="1.9">0</tspan><tspan dy="-1.9">+4.7s to T</tspan><tspan font-size="6" dy="1.9">0</tspan><tspan dy="-1.9">+4.9s</tspan></text>
<path d="M599.5,189.4h25.5" stroke="#efbe2a" stroke-width="1.7"/>
<path d="M599.5,200.7h25.5" stroke="#000" stroke-width="1.8"/>
<text x="630.4" y="192.5" font-size="8.4" fill="#111" stroke="#111" stroke-width="0.22" textLength="76.8" lengthAdjust="spacingAndGlyphs">GRB090926A (Band)</text>
<text x="630.4" y="203.2" font-size="8.4" fill="#111" stroke="#111" stroke-width="0.22" textLength="90.0" lengthAdjust="spacingAndGlyphs">GRB090926A (C+BB+C)</text>
<text x="510.3" y="373.5" font-size="8.8" font-weight="bold" fill="#000" stroke="#000" stroke-width="0.3" textLength="68.1" lengthAdjust="spacingAndGlyphs">T<tspan font-size="6" dy="1.9">0</tspan><tspan dy="-1.9">+4.9s to T</tspan><tspan font-size="6" dy="1.9">0</tspan><tspan dy="-1.9">+5.2s</tspan></text>
<path d="M599.5,371.3h25.5" stroke="#efbe2a" stroke-width="1.7"/>
<path d="M599.5,382.6h25.5" stroke="#000" stroke-width="1.8"/>
<text x="630.4" y="374.4" font-size="8.4" fill="#111" stroke="#111" stroke-width="0.22" textLength="76.8" lengthAdjust="spacingAndGlyphs">GRB090926A (Band)</text>
<text x="630.4" y="385.1" font-size="8.4" fill="#111" stroke="#111" stroke-width="0.22" textLength="90.0" lengthAdjust="spacingAndGlyphs">GRB090926A (C+BB+C)</text>
<text x="510.3" y="552.4" font-size="8.8" font-weight="bold" fill="#000" stroke="#000" stroke-width="0.3" textLength="68.1" lengthAdjust="spacingAndGlyphs">T<tspan font-size="6" dy="1.9">0</tspan><tspan dy="-1.9">+5.2s to T</tspan><tspan font-size="6" dy="1.9">0</tspan><tspan dy="-1.9">+5.6s</tspan></text>
<path d="M599.5,550.2h25.5" stroke="#efbe2a" stroke-width="1.7"/>
<path d="M599.5,561.5h25.5" stroke="#000" stroke-width="1.8"/>
<text x="630.4" y="553.3" font-size="8.4" fill="#111" stroke="#111" stroke-width="0.22" textLength="76.8" lengthAdjust="spacingAndGlyphs">GRB090926A (Band)</text>
<text x="630.4" y="564.0" font-size="8.4" fill="#111" stroke="#111" stroke-width="0.22" textLength="90.0" lengthAdjust="spacingAndGlyphs">GRB090926A (C+BB+C)</text>
<text x="510.3" y="734.4" font-size="8.8" font-weight="bold" fill="#000" stroke="#000" stroke-width="0.3" textLength="68.1" lengthAdjust="spacingAndGlyphs">T<tspan font-size="6" dy="1.9">0</tspan><tspan dy="-1.9">+5.6s to T</tspan><tspan font-size="6" dy="1.9">0</tspan><tspan dy="-1.9">+6.0s</tspan></text>
<path d="M599.5,732.2h25.5" stroke="#efbe2a" stroke-width="1.7"/>
<path d="M599.5,743.5h25.5" stroke="#000" stroke-width="1.8"/>
<text x="630.4" y="735.3" font-size="8.4" fill="#111" stroke="#111" stroke-width="0.22" textLength="76.8" lengthAdjust="spacingAndGlyphs">GRB090926A (Band)</text>
<text x="630.4" y="746.0" font-size="8.4" fill="#111" stroke="#111" stroke-width="0.22" textLength="90.0" lengthAdjust="spacingAndGlyphs">GRB090926A (C+BB+C)</text>
<text transform="translate(12.1,93.8) rotate(-90)" x="-57.2" y="0" font-size="13.8" fill="#111" stroke="#111" stroke-width="0.3" textLength="114.5" lengthAdjust="spacingAndGlyphs">&#957;F<tspan font-size="9" dy="2.8">&#957;</tspan><tspan dy="-2.8"> (erg</tspan><tspan font-size="9" dy="-5.2">2</tspan><tspan dy="5.2">/keV/cm</tspan><tspan font-size="9" dy="-5.2">2</tspan><tspan dy="5.2">/s)</tspan></text>
<text x="20.2" y="38.5" font-size="13.2" fill="#111" stroke="#111" stroke-width="0.3" textLength="12.8" lengthAdjust="spacingAndGlyphs">10</text>
<text x="34.4" y="34.1" font-size="8.8" fill="#111" stroke="#111" stroke-width="0.2" textLength="11.4" lengthAdjust="spacingAndGlyphs">-14</tspan></text>
<text x="20.2" y="96.0" font-size="13.2" fill="#111" stroke="#111" stroke-width="0.3" textLength="12.8" lengthAdjust="spacingAndGlyphs">10</text>
<text x="34.4" y="91.6" font-size="8.8" fill="#111" stroke="#111" stroke-width="0.2" textLength="11.4" lengthAdjust="spacingAndGlyphs">-15</tspan></text>
<text x="20.2" y="153.5" font-size="13.2" fill="#111" stroke="#111" stroke-width="0.3" textLength="12.8" lengthAdjust="spacingAndGlyphs">10</text>
<text x="34.4" y="149.1" font-size="8.8" fill="#111" stroke="#111" stroke-width="0.2" textLength="11.4" lengthAdjust="spacingAndGlyphs">-16</tspan></text>
<text transform="translate(12.1,273.5) rotate(-90)" x="-57.2" y="0" font-size="13.8" fill="#111" stroke="#111" stroke-width="0.3" textLength="114.5" lengthAdjust="spacingAndGlyphs">&#957;F<tspan font-size="9" dy="2.8">&#957;</tspan><tspan dy="-2.8"> (erg</tspan><tspan font-size="9" dy="-5.2">2</tspan><tspan dy="5.2">/keV/cm</tspan><tspan font-size="9" dy="-5.2">2</tspan><tspan dy="5.2">/s)</tspan></text>
<text x="20.2" y="216.7" font-size="13.2" fill="#111" stroke="#111" stroke-width="0.3" textLength="12.8" lengthAdjust="spacingAndGlyphs">10</text>
<text x="34.4" y="212.3" font-size="8.8" fill="#111" stroke="#111" stroke-width="0.2" textLength="11.4" lengthAdjust="spacingAndGlyphs">-14</tspan></text>
<text x="20.2" y="275.7" font-size="13.2" fill="#111" stroke="#111" stroke-width="0.3" textLength="12.8" lengthAdjust="spacingAndGlyphs">10</text>
<text x="34.4" y="271.3" font-size="8.8" fill="#111" stroke="#111" stroke-width="0.2" textLength="11.4" lengthAdjust="spacingAndGlyphs">-15</tspan></text>
<text x="20.2" y="334.8" font-size="13.2" fill="#111" stroke="#111" stroke-width="0.3" textLength="12.8" lengthAdjust="spacingAndGlyphs">10</text>
<text x="34.4" y="330.4" font-size="8.8" fill="#111" stroke="#111" stroke-width="0.2" textLength="11.4" lengthAdjust="spacingAndGlyphs">-16</tspan></text>
<text transform="translate(12.1,453.8) rotate(-90)" x="-57.2" y="0" font-size="13.8" fill="#111" stroke="#111" stroke-width="0.3" textLength="114.5" lengthAdjust="spacingAndGlyphs">&#957;F<tspan font-size="9" dy="2.8">&#957;</tspan><tspan dy="-2.8"> (erg</tspan><tspan font-size="9" dy="-5.2">2</tspan><tspan dy="5.2">/keV/cm</tspan><tspan font-size="9" dy="-5.2">2</tspan><tspan dy="5.2">/s)</tspan></text>
<text x="20.2" y="398.0" font-size="13.2" fill="#111" stroke="#111" stroke-width="0.3" textLength="12.8" lengthAdjust="spacingAndGlyphs">10</text>
<text x="34.4" y="393.6" font-size="8.8" fill="#111" stroke="#111" stroke-width="0.2" textLength="11.4" lengthAdjust="spacingAndGlyphs">-14</tspan></text>
<text x="20.2" y="456.0" font-size="13.2" fill="#111" stroke="#111" stroke-width="0.3" textLength="12.8" lengthAdjust="spacingAndGlyphs">10</text>
<text x="34.4" y="451.6" font-size="8.8" fill="#111" stroke="#111" stroke-width="0.2" textLength="11.4" lengthAdjust="spacingAndGlyphs">-15</tspan></text>
<text x="20.2" y="514.1" font-size="13.2" fill="#111" stroke="#111" stroke-width="0.3" textLength="12.8" lengthAdjust="spacingAndGlyphs">10</text>
<text x="34.4" y="509.7" font-size="8.8" fill="#111" stroke="#111" stroke-width="0.2" textLength="11.4" lengthAdjust="spacingAndGlyphs">-16</tspan></text>
<text transform="translate(12.1,634.3) rotate(-90)" x="-57.2" y="0" font-size="13.8" fill="#111" stroke="#111" stroke-width="0.3" textLength="114.5" lengthAdjust="spacingAndGlyphs">&#957;F<tspan font-size="9" dy="2.8">&#957;</tspan><tspan dy="-2.8"> (erg</tspan><tspan font-size="9" dy="-5.2">2</tspan><tspan dy="5.2">/keV/cm</tspan><tspan font-size="9" dy="-5.2">2</tspan><tspan dy="5.2">/s)</tspan></text>
<text x="20.2" y="577.5" font-size="13.2" fill="#111" stroke="#111" stroke-width="0.3" textLength="12.8" lengthAdjust="spacingAndGlyphs">10</text>
<text x="34.4" y="573.1" font-size="8.8" fill="#111" stroke="#111" stroke-width="0.2" textLength="11.4" lengthAdjust="spacingAndGlyphs">-14</tspan></text>
<text x="20.2" y="636.6" font-size="13.2" fill="#111" stroke="#111" stroke-width="0.3" textLength="12.8" lengthAdjust="spacingAndGlyphs">10</text>
<text x="34.4" y="632.2" font-size="8.8" fill="#111" stroke="#111" stroke-width="0.2" textLength="11.4" lengthAdjust="spacingAndGlyphs">-15</tspan></text>
<text x="20.2" y="695.6" font-size="13.2" fill="#111" stroke="#111" stroke-width="0.3" textLength="12.8" lengthAdjust="spacingAndGlyphs">10</text>
<text x="34.4" y="691.2" font-size="8.8" fill="#111" stroke="#111" stroke-width="0.2" textLength="11.4" lengthAdjust="spacingAndGlyphs">-16</tspan></text>
<text transform="translate(12.1,814.2) rotate(-90)" x="-57.2" y="0" font-size="13.8" fill="#111" stroke="#111" stroke-width="0.3" textLength="114.5" lengthAdjust="spacingAndGlyphs">&#957;F<tspan font-size="9" dy="2.8">&#957;</tspan><tspan dy="-2.8"> (erg</tspan><tspan font-size="9" dy="-5.2">2</tspan><tspan dy="5.2">/keV/cm</tspan><tspan font-size="9" dy="-5.2">2</tspan><tspan dy="5.2">/s)</tspan></text>
<text x="20.2" y="758.7" font-size="13.2" fill="#111" stroke="#111" stroke-width="0.3" textLength="12.8" lengthAdjust="spacingAndGlyphs">10</text>
<text x="34.4" y="754.3" font-size="8.8" fill="#111" stroke="#111" stroke-width="0.2" textLength="11.4" lengthAdjust="spacingAndGlyphs">-14</tspan></text>
<text x="20.2" y="816.4" font-size="13.2" fill="#111" stroke="#111" stroke-width="0.3" textLength="12.8" lengthAdjust="spacingAndGlyphs">10</text>
<text x="34.4" y="812.0" font-size="8.8" fill="#111" stroke="#111" stroke-width="0.2" textLength="11.4" lengthAdjust="spacingAndGlyphs">-15</tspan></text>
<text x="20.2" y="874.1" font-size="13.2" fill="#111" stroke="#111" stroke-width="0.3" textLength="12.8" lengthAdjust="spacingAndGlyphs">10</text>
<text x="34.4" y="869.7" font-size="8.8" fill="#111" stroke="#111" stroke-width="0.2" textLength="11.4" lengthAdjust="spacingAndGlyphs">-16</tspan></text>
<text x="46.8" y="912.8" font-size="12" fill="#111" stroke="#111" stroke-width="0.3" textLength="12.9" lengthAdjust="spacingAndGlyphs">10</text>
<text x="107.1" y="912.8" font-size="12" fill="#111" stroke="#111" stroke-width="0.3" textLength="12.3" lengthAdjust="spacingAndGlyphs">10</text>
<text x="119.7" y="908.8" font-size="9.2" fill="#111" stroke="#111" stroke-width="0.2">2</text>
<text x="169.8" y="912.8" font-size="12" fill="#111" stroke="#111" stroke-width="0.3" textLength="12.3" lengthAdjust="spacingAndGlyphs">10</text>
<text x="182.4" y="908.8" font-size="9.2" fill="#111" stroke="#111" stroke-width="0.2">3</text>
<text x="232.5" y="912.8" font-size="12" fill="#111" stroke="#111" stroke-width="0.3" textLength="12.3" lengthAdjust="spacingAndGlyphs">10</text>
<text x="245.1" y="908.8" font-size="9.2" fill="#111" stroke="#111" stroke-width="0.2">4</text>
<text x="123.8" y="925.3" font-size="12.6" fill="#111" stroke="#111" stroke-width="0.3" textLength="71" lengthAdjust="spacingAndGlyphs">Energy (keV)</text>
<text x="278.9" y="912.8" font-size="12" fill="#111" stroke="#111" stroke-width="0.3" textLength="12.9" lengthAdjust="spacingAndGlyphs">10</text>
<text x="337.1" y="912.8" font-size="12" fill="#111" stroke="#111" stroke-width="0.3" textLength="12.3" lengthAdjust="spacingAndGlyphs">10</text>
<text x="349.7" y="908.8" font-size="9.2" fill="#111" stroke="#111" stroke-width="0.2">2</text>
<text x="397.8" y="912.8" font-size="12" fill="#111" stroke="#111" stroke-width="0.3" textLength="12.3" lengthAdjust="spacingAndGlyphs">10</text>
<text x="410.4" y="908.8" font-size="9.2" fill="#111" stroke="#111" stroke-width="0.2">3</text>
<text x="458.4" y="912.8" font-size="12" fill="#111" stroke="#111" stroke-width="0.3" textLength="12.3" lengthAdjust="spacingAndGlyphs">10</text>
<text x="471.0" y="908.8" font-size="9.2" fill="#111" stroke="#111" stroke-width="0.2">4</text>
<text x="355.3" y="925.3" font-size="12.6" fill="#111" stroke="#111" stroke-width="0.3" textLength="71" lengthAdjust="spacingAndGlyphs">Energy (keV)</text>
<text x="503.4" y="912.8" font-size="12" fill="#111" stroke="#111" stroke-width="0.3" textLength="12.9" lengthAdjust="spacingAndGlyphs">10</text>
<text x="561.8" y="912.8" font-size="12" fill="#111" stroke="#111" stroke-width="0.3" textLength="12.3" lengthAdjust="spacingAndGlyphs">10</text>
<text x="574.4" y="908.8" font-size="9.2" fill="#111" stroke="#111" stroke-width="0.2">2</text>
<text x="622.5" y="912.8" font-size="12" fill="#111" stroke="#111" stroke-width="0.3" textLength="12.3" lengthAdjust="spacingAndGlyphs">10</text>
<text x="635.1" y="908.8" font-size="9.2" fill="#111" stroke="#111" stroke-width="0.2">3</text>
<text x="683.2" y="912.8" font-size="12" fill="#111" stroke="#111" stroke-width="0.3" textLength="12.3" lengthAdjust="spacingAndGlyphs">10</text>
<text x="695.9" y="908.8" font-size="9.2" fill="#111" stroke="#111" stroke-width="0.2">4</text>
<text x="580.7" y="925.3" font-size="12.6" fill="#111" stroke="#111" stroke-width="0.3" textLength="71" lengthAdjust="spacingAndGlyphs">Energy (keV)</text>
</svg></body></html>
